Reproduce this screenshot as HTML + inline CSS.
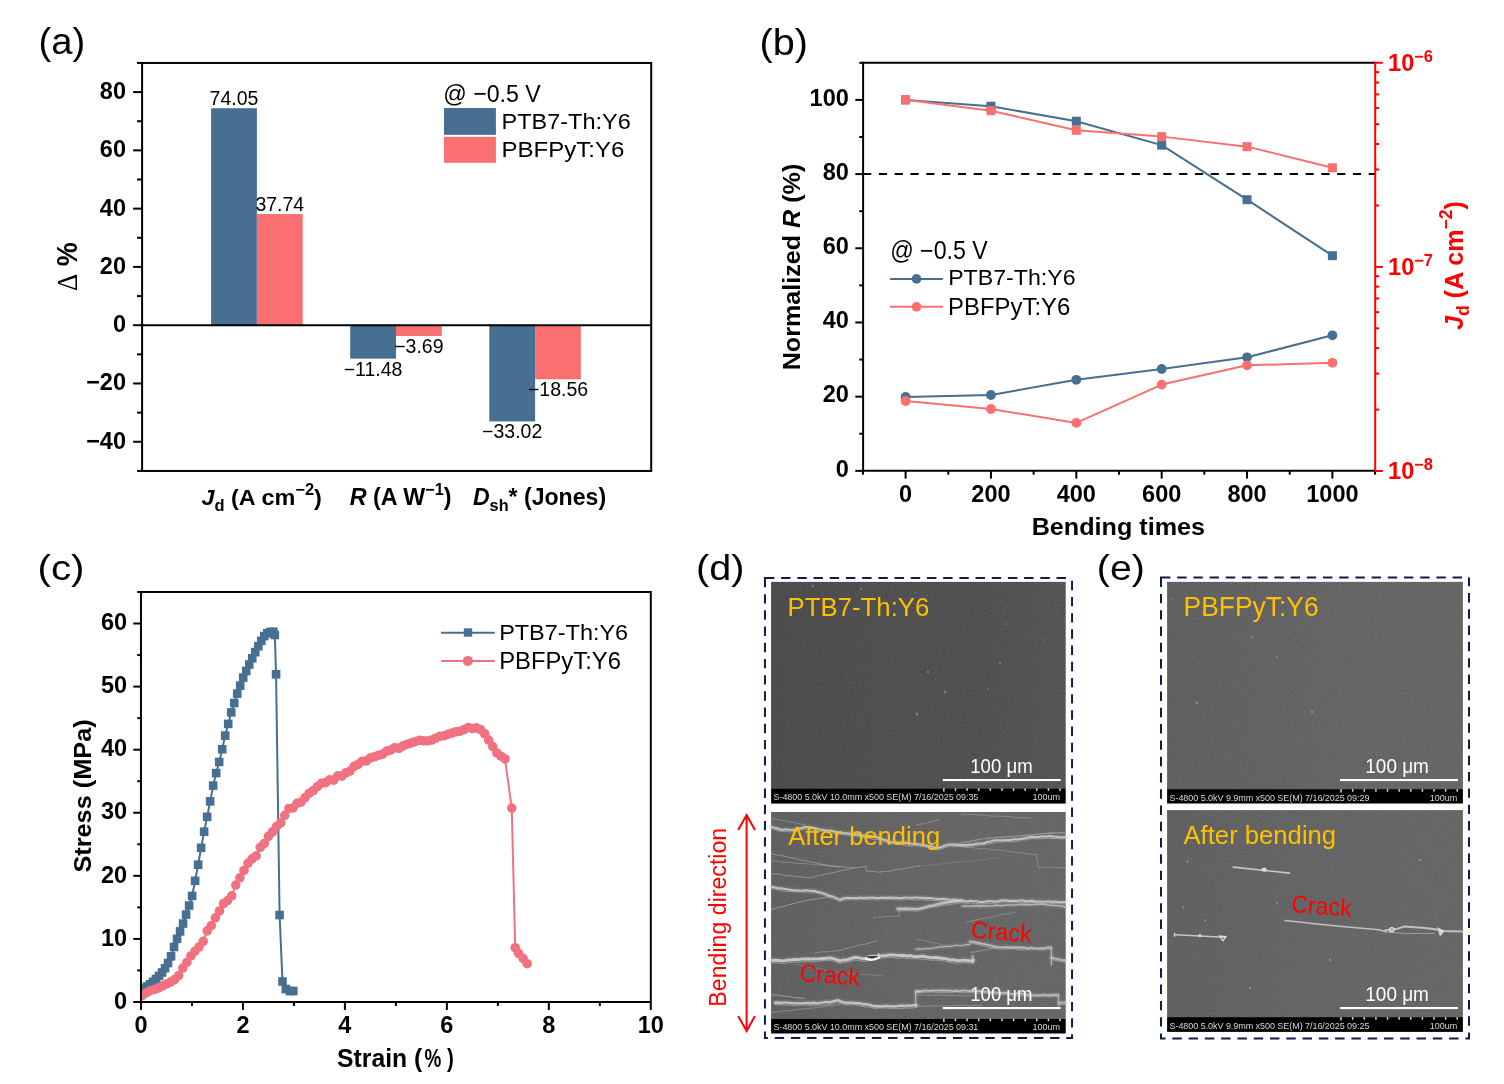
<!DOCTYPE html>
<html><head><meta charset="utf-8"><title>Figure</title>
<style>html,body{margin:0;padding:0;background:#fff;overflow:hidden;} svg{display:block;will-change:transform;} text{font-family:"Liberation Sans", Arial, sans-serif;}</style>
</head><body>
<svg width="1504" height="1084" viewBox="0 0 1504 1084">
<rect width="1504" height="1084" fill="#fff"/>
<text transform="translate(38.51,54.06) scale(1.0608,1.0060) rotate(0)" font-size="36" font-weight="normal" font-style="normal" fill="#000">(a)</text>
<rect x="211.10" y="108.22" width="45.80" height="216.98" fill="#466F91" />
<text x="234.00" y="105.02" font-size="19.5" font-weight="normal" font-style="normal" fill="#000" text-anchor="middle" >74.05</text>
<rect x="256.90" y="214.03" width="45.80" height="111.17" fill="#FA7070" />
<text x="279.80" y="210.83" font-size="19.5" font-weight="normal" font-style="normal" fill="#000" text-anchor="middle" >37.74</text>
<rect x="350.20" y="325.20" width="45.80" height="33.45" fill="#466F91" />
<text x="373.10" y="375.65" font-size="19.5" font-weight="normal" font-style="normal" fill="#000" text-anchor="middle" >−11.48</text>
<rect x="396.00" y="325.20" width="45.80" height="10.75" fill="#FA7070" />
<text x="418.90" y="352.95" font-size="19.5" font-weight="normal" font-style="normal" fill="#000" text-anchor="middle" >−3.69</text>
<rect x="489.30" y="325.20" width="45.80" height="96.22" fill="#466F91" />
<text x="512.20" y="438.42" font-size="19.5" font-weight="normal" font-style="normal" fill="#000" text-anchor="middle" >−33.02</text>
<rect x="535.10" y="325.20" width="45.80" height="54.08" fill="#FA7070" />
<text x="558.00" y="396.28" font-size="19.5" font-weight="normal" font-style="normal" fill="#000" text-anchor="middle" >−18.56</text>
<line x1="142.10" y1="325.20" x2="651.20" y2="325.20" stroke="#000" stroke-width="2" />
<line x1="133.10" y1="441.76" x2="142.10" y2="441.76" stroke="#000" stroke-width="2" />
<text x="126.00" y="448.66" font-size="23.5" font-weight="bold" font-style="normal" fill="#000" text-anchor="end" >−40</text>
<line x1="133.10" y1="383.48" x2="142.10" y2="383.48" stroke="#000" stroke-width="2" />
<text x="126.00" y="390.38" font-size="23.5" font-weight="bold" font-style="normal" fill="#000" text-anchor="end" >−20</text>
<line x1="133.10" y1="325.20" x2="142.10" y2="325.20" stroke="#000" stroke-width="2" />
<text x="126.00" y="332.10" font-size="23.5" font-weight="bold" font-style="normal" fill="#000" text-anchor="end" >0</text>
<line x1="133.10" y1="266.92" x2="142.10" y2="266.92" stroke="#000" stroke-width="2" />
<text x="126.00" y="273.82" font-size="23.5" font-weight="bold" font-style="normal" fill="#000" text-anchor="end" >20</text>
<line x1="133.10" y1="208.64" x2="142.10" y2="208.64" stroke="#000" stroke-width="2" />
<text x="126.00" y="215.54" font-size="23.5" font-weight="bold" font-style="normal" fill="#000" text-anchor="end" >40</text>
<line x1="133.10" y1="150.36" x2="142.10" y2="150.36" stroke="#000" stroke-width="2" />
<text x="126.00" y="157.26" font-size="23.5" font-weight="bold" font-style="normal" fill="#000" text-anchor="end" >60</text>
<line x1="133.10" y1="92.08" x2="142.10" y2="92.08" stroke="#000" stroke-width="2" />
<text x="126.00" y="98.98" font-size="23.5" font-weight="bold" font-style="normal" fill="#000" text-anchor="end" >80</text>
<line x1="137.00" y1="470.90" x2="142.10" y2="470.90" stroke="#000" stroke-width="2" />
<line x1="137.00" y1="412.62" x2="142.10" y2="412.62" stroke="#000" stroke-width="2" />
<line x1="137.00" y1="354.34" x2="142.10" y2="354.34" stroke="#000" stroke-width="2" />
<line x1="137.00" y1="296.06" x2="142.10" y2="296.06" stroke="#000" stroke-width="2" />
<line x1="137.00" y1="237.78" x2="142.10" y2="237.78" stroke="#000" stroke-width="2" />
<line x1="137.00" y1="179.50" x2="142.10" y2="179.50" stroke="#000" stroke-width="2" />
<line x1="137.00" y1="121.22" x2="142.10" y2="121.22" stroke="#000" stroke-width="2" />
<line x1="137.00" y1="62.94" x2="142.10" y2="62.94" stroke="#000" stroke-width="2" />
<rect x="142.1" y="62.97" width="509.10" height="408.00" fill="none" stroke="#000" stroke-width="2"/>
<text transform="translate(443.24,102.14) scale(1.0074,1.0650) rotate(0)" font-size="23" font-weight="normal" font-style="normal" fill="#000">@ −0.5 V</text>
<rect x="444.00" y="108.00" width="51.90" height="26.80" fill="#466F91" />
<rect x="444.00" y="136.80" width="51.90" height="26.00" fill="#FA7070" />
<text transform="translate(501.45,128.66) scale(1.0227,0.9647) rotate(0)" font-size="23" font-weight="normal" font-style="normal" fill="#000">PTB7-Th:Y6</text>
<text transform="translate(501.41,157.38) scale(1.0454,0.9928) rotate(0)" font-size="23" font-weight="normal" font-style="normal" fill="#000">PBFPyT:Y6</text>
<text transform="translate(201.45,505.01) scale(0.9979,0.9658) rotate(0)" font-size="23.5" font-weight="bold" font-style="normal" fill="#000"><tspan font-style="italic">J</tspan><tspan font-size="16.5" dy="5.8">d</tspan><tspan dy="-5.8"> (A cm</tspan><tspan font-size="16.5" dy="-10.2">−2</tspan><tspan dy="10.2">)</tspan></text>
<text transform="translate(349.80,505.30) scale(0.9906,0.9905) rotate(0)" font-size="23.5" font-weight="bold" font-style="normal" fill="#000"><tspan font-style="italic">R</tspan> (A W<tspan font-size="16.5" dy="-10.2">−1</tspan><tspan dy="10.2">)</tspan></text>
<text transform="translate(472.91,504.88) scale(0.9839,0.9870) rotate(0)" font-size="23.5" font-weight="bold" font-style="normal" fill="#000"><tspan font-style="italic">D</tspan><tspan font-size="16.5" dy="5.8">sh</tspan><tspan dy="-5.8">* (Jones)</tspan></text>
<text transform="translate(76.77,290.97) scale(1.3108,1.1725) rotate(-90)" font-size="23" font-weight="normal" font-style="normal" fill="#000"><tspan font-family="Liberation Serif, serif">Δ</tspan> <tspan font-weight="bold">%</tspan></text>
<text transform="translate(759.52,54.94) scale(1.1013,1.0075) rotate(0)" font-size="36" font-weight="normal" font-style="normal" fill="#000">(b)</text>
<line x1="863.1" y1="174.09" x2="1375.2" y2="174.09" stroke="#000" stroke-width="2" stroke-dasharray="8.2 7.6"/>
<polyline points="905.60,99.90 990.96,106.21 1076.32,121.23 1161.68,145.16 1247.04,199.69 1332.40,255.70" fill="none" stroke="#466F91" stroke-width="2" stroke-linejoin="round"/>
<polyline points="905.60,397.00 990.96,395.00 1076.32,379.80 1161.68,369.00 1247.04,357.30 1332.40,335.30" fill="none" stroke="#466F91" stroke-width="2" stroke-linejoin="round"/>
<rect x="901.10" y="95.40" width="9.00" height="9.00" fill="#466F91" />
<rect x="986.46" y="101.71" width="9.00" height="9.00" fill="#466F91" />
<rect x="1071.82" y="116.73" width="9.00" height="9.00" fill="#466F91" />
<rect x="1157.18" y="140.66" width="9.00" height="9.00" fill="#466F91" />
<rect x="1242.54" y="195.19" width="9.00" height="9.00" fill="#466F91" />
<rect x="1327.90" y="251.20" width="9.00" height="9.00" fill="#466F91" />
<circle cx="905.60" cy="397.00" r="4.9" fill="#466F91"/>
<circle cx="990.96" cy="395.00" r="4.9" fill="#466F91"/>
<circle cx="1076.32" cy="379.80" r="4.9" fill="#466F91"/>
<circle cx="1161.68" cy="369.00" r="4.9" fill="#466F91"/>
<circle cx="1247.04" cy="357.30" r="4.9" fill="#466F91"/>
<circle cx="1332.40" cy="335.30" r="4.9" fill="#466F91"/>
<polyline points="905.60,99.71 990.96,110.66 1076.32,130.32 1161.68,136.62 1247.04,146.64 1332.40,167.78" fill="none" stroke="#FA7070" stroke-width="2" stroke-linejoin="round"/>
<polyline points="905.60,401.00 990.96,409.00 1076.32,422.90 1161.68,384.60 1247.04,365.30 1332.40,362.80" fill="none" stroke="#FA7070" stroke-width="2" stroke-linejoin="round"/>
<rect x="901.10" y="95.21" width="9.00" height="9.00" fill="#FA7070" />
<rect x="986.46" y="106.16" width="9.00" height="9.00" fill="#FA7070" />
<rect x="1071.82" y="125.82" width="9.00" height="9.00" fill="#FA7070" />
<rect x="1157.18" y="132.12" width="9.00" height="9.00" fill="#FA7070" />
<rect x="1242.54" y="142.14" width="9.00" height="9.00" fill="#FA7070" />
<rect x="1327.90" y="163.28" width="9.00" height="9.00" fill="#FA7070" />
<circle cx="905.60" cy="401.00" r="4.9" fill="#FA7070"/>
<circle cx="990.96" cy="409.00" r="4.9" fill="#FA7070"/>
<circle cx="1076.32" cy="422.90" r="4.9" fill="#FA7070"/>
<circle cx="1161.68" cy="384.60" r="4.9" fill="#FA7070"/>
<circle cx="1247.04" cy="365.30" r="4.9" fill="#FA7070"/>
<circle cx="1332.40" cy="362.80" r="4.9" fill="#FA7070"/>
<line x1="855.30" y1="470.85" x2="863.10" y2="470.85" stroke="#000" stroke-width="2" />
<text x="848.80" y="476.55" font-size="23.5" font-weight="bold" font-style="normal" fill="#000" text-anchor="end" >0</text>
<line x1="855.30" y1="396.66" x2="863.10" y2="396.66" stroke="#000" stroke-width="2" />
<text x="848.80" y="402.36" font-size="23.5" font-weight="bold" font-style="normal" fill="#000" text-anchor="end" >20</text>
<line x1="855.30" y1="322.47" x2="863.10" y2="322.47" stroke="#000" stroke-width="2" />
<text x="848.80" y="328.17" font-size="23.5" font-weight="bold" font-style="normal" fill="#000" text-anchor="end" >40</text>
<line x1="855.30" y1="248.28" x2="863.10" y2="248.28" stroke="#000" stroke-width="2" />
<text x="848.80" y="253.98" font-size="23.5" font-weight="bold" font-style="normal" fill="#000" text-anchor="end" >60</text>
<line x1="855.30" y1="174.09" x2="863.10" y2="174.09" stroke="#000" stroke-width="2" />
<text x="848.80" y="179.79" font-size="23.5" font-weight="bold" font-style="normal" fill="#000" text-anchor="end" >80</text>
<line x1="855.30" y1="99.90" x2="863.10" y2="99.90" stroke="#000" stroke-width="2" />
<text x="848.80" y="105.60" font-size="23.5" font-weight="bold" font-style="normal" fill="#000" text-anchor="end" >100</text>
<line x1="859.30" y1="433.75" x2="863.10" y2="433.75" stroke="#000" stroke-width="2" />
<line x1="859.30" y1="359.57" x2="863.10" y2="359.57" stroke="#000" stroke-width="2" />
<line x1="859.30" y1="285.38" x2="863.10" y2="285.38" stroke="#000" stroke-width="2" />
<line x1="859.30" y1="211.19" x2="863.10" y2="211.19" stroke="#000" stroke-width="2" />
<line x1="859.30" y1="137.00" x2="863.10" y2="137.00" stroke="#000" stroke-width="2" />
<line x1="859.30" y1="62.81" x2="863.10" y2="62.81" stroke="#000" stroke-width="2" />
<line x1="905.60" y1="470.85" x2="905.60" y2="478.60" stroke="#000" stroke-width="2" />
<text x="905.60" y="502.00" font-size="23.5" font-weight="bold" font-style="normal" fill="#000" text-anchor="middle" >0</text>
<line x1="990.96" y1="470.85" x2="990.96" y2="478.60" stroke="#000" stroke-width="2" />
<text x="990.96" y="502.00" font-size="23.5" font-weight="bold" font-style="normal" fill="#000" text-anchor="middle" >200</text>
<line x1="1076.32" y1="470.85" x2="1076.32" y2="478.60" stroke="#000" stroke-width="2" />
<text x="1076.32" y="502.00" font-size="23.5" font-weight="bold" font-style="normal" fill="#000" text-anchor="middle" >400</text>
<line x1="1161.68" y1="470.85" x2="1161.68" y2="478.60" stroke="#000" stroke-width="2" />
<text x="1161.68" y="502.00" font-size="23.5" font-weight="bold" font-style="normal" fill="#000" text-anchor="middle" >600</text>
<line x1="1247.04" y1="470.85" x2="1247.04" y2="478.60" stroke="#000" stroke-width="2" />
<text x="1247.04" y="502.00" font-size="23.5" font-weight="bold" font-style="normal" fill="#000" text-anchor="middle" >800</text>
<line x1="1332.40" y1="470.85" x2="1332.40" y2="478.60" stroke="#000" stroke-width="2" />
<text x="1332.40" y="502.00" font-size="23.5" font-weight="bold" font-style="normal" fill="#000" text-anchor="middle" >1000</text>
<line x1="862.92" y1="470.85" x2="862.92" y2="474.70" stroke="#000" stroke-width="2" />
<line x1="948.28" y1="470.85" x2="948.28" y2="474.70" stroke="#000" stroke-width="2" />
<line x1="1033.64" y1="470.85" x2="1033.64" y2="474.70" stroke="#000" stroke-width="2" />
<line x1="1119.00" y1="470.85" x2="1119.00" y2="474.70" stroke="#000" stroke-width="2" />
<line x1="1204.36" y1="470.85" x2="1204.36" y2="474.70" stroke="#000" stroke-width="2" />
<line x1="1289.72" y1="470.85" x2="1289.72" y2="474.70" stroke="#000" stroke-width="2" />
<line x1="1375.08" y1="470.85" x2="1375.08" y2="474.70" stroke="#000" stroke-width="2" />
<line x1="1375.20" y1="471.00" x2="1382.80" y2="471.00" stroke="#FF0000" stroke-width="2" />
<line x1="1375.20" y1="266.90" x2="1382.80" y2="266.90" stroke="#FF0000" stroke-width="2" />
<line x1="1375.20" y1="62.80" x2="1382.80" y2="62.80" stroke="#FF0000" stroke-width="2" />
<line x1="1375.20" y1="409.56" x2="1379.10" y2="409.56" stroke="#FF0000" stroke-width="2" />
<line x1="1375.20" y1="373.62" x2="1379.10" y2="373.62" stroke="#FF0000" stroke-width="2" />
<line x1="1375.20" y1="348.12" x2="1379.10" y2="348.12" stroke="#FF0000" stroke-width="2" />
<line x1="1375.20" y1="328.34" x2="1379.10" y2="328.34" stroke="#FF0000" stroke-width="2" />
<line x1="1375.20" y1="312.18" x2="1379.10" y2="312.18" stroke="#FF0000" stroke-width="2" />
<line x1="1375.20" y1="298.52" x2="1379.10" y2="298.52" stroke="#FF0000" stroke-width="2" />
<line x1="1375.20" y1="286.68" x2="1379.10" y2="286.68" stroke="#FF0000" stroke-width="2" />
<line x1="1375.20" y1="276.24" x2="1379.10" y2="276.24" stroke="#FF0000" stroke-width="2" />
<line x1="1375.20" y1="205.46" x2="1379.10" y2="205.46" stroke="#FF0000" stroke-width="2" />
<line x1="1375.20" y1="169.52" x2="1379.10" y2="169.52" stroke="#FF0000" stroke-width="2" />
<line x1="1375.20" y1="144.02" x2="1379.10" y2="144.02" stroke="#FF0000" stroke-width="2" />
<line x1="1375.20" y1="124.24" x2="1379.10" y2="124.24" stroke="#FF0000" stroke-width="2" />
<line x1="1375.20" y1="108.08" x2="1379.10" y2="108.08" stroke="#FF0000" stroke-width="2" />
<line x1="1375.20" y1="94.42" x2="1379.10" y2="94.42" stroke="#FF0000" stroke-width="2" />
<line x1="1375.20" y1="82.58" x2="1379.10" y2="82.58" stroke="#FF0000" stroke-width="2" />
<line x1="1375.20" y1="72.14" x2="1379.10" y2="72.14" stroke="#FF0000" stroke-width="2" />
<line x1="863.10" y1="62.80" x2="1375.20" y2="62.80" stroke="#000" stroke-width="2" />
<line x1="863.10" y1="470.85" x2="1375.20" y2="470.85" stroke="#000" stroke-width="2" />
<line x1="863.10" y1="61.80" x2="863.10" y2="471.85" stroke="#000" stroke-width="2" />
<line x1="1375.20" y1="61.80" x2="1375.20" y2="471.85" stroke="#FF0000" stroke-width="2" />
<text x="1388.09" y="71.10" font-size="23.5" font-weight="bold" font-style="normal" fill="#FF0000" text-anchor="start" >10<tspan font-size="16.5" dy="-9.1">−6</tspan></text>
<text x="1388.09" y="275.20" font-size="23.5" font-weight="bold" font-style="normal" fill="#FF0000" text-anchor="start" >10<tspan font-size="16.5" dy="-9.1">−7</tspan></text>
<text x="1388.09" y="479.30" font-size="23.5" font-weight="bold" font-style="normal" fill="#FF0000" text-anchor="start" >10<tspan font-size="16.5" dy="-9.1">−8</tspan></text>
<text transform="translate(890.14,259.34) scale(1.0084,1.0950) rotate(0)" font-size="23" font-weight="normal" font-style="normal" fill="#000">@ −0.5 V</text>
<line x1="890.10" y1="278.90" x2="942.80" y2="278.90" stroke="#466F91" stroke-width="2" />
<circle cx="916.50" cy="278.90" r="4.8" fill="#466F91"/>
<line x1="890.10" y1="306.80" x2="942.80" y2="306.80" stroke="#FA7070" stroke-width="2" />
<circle cx="916.50" cy="306.80" r="4.8" fill="#FA7070"/>
<text transform="translate(948.19,285.26) scale(1.0065,0.9529) rotate(0)" font-size="23" font-weight="normal" font-style="normal" fill="#000">PTB7-Th:Y6</text>
<text transform="translate(948.12,314.64) scale(1.0393,1.0024) rotate(0)" font-size="23" font-weight="normal" font-style="normal" fill="#000">PBFPyT:Y6</text>
<text transform="translate(799.52,370.30) scale(1.0483,1.0698) rotate(-90)" font-size="23.5" font-weight="bold" font-style="normal" fill="#000">Normalized <tspan font-style="italic">R</tspan> (%)</text>
<text transform="translate(1031.69,535.46) scale(1.0715,1.0273) rotate(0)" font-size="23.5" font-weight="bold" font-style="normal" fill="#000">Bending times</text>
<text transform="translate(1462.68,329.87) scale(1.0703,1.0667) rotate(-90)" font-size="23.5" font-weight="bold" font-style="normal" fill="#FF0000"><tspan font-style="italic">J</tspan><tspan font-size="16.5" dy="5.8">d</tspan><tspan dy="-5.8"> (A cm</tspan><tspan font-size="16.5" dy="-10.2">−2</tspan><tspan dy="10.2">)</tspan></text>
<text transform="translate(37.48,580.11) scale(1.1200,0.9851) rotate(0)" font-size="36" font-weight="normal" font-style="normal" fill="#000">(c)</text>
<defs><clipPath id="clipc"><rect x="140.97" y="591.98" width="509.83" height="410.02"/></clipPath></defs><g clip-path="url(#clipc)">
<polyline points="140.97,991.91 143.98,988.39 146.99,986.46 149.99,984.22 153.00,981.67 156.01,978.93 159.02,975.91 162.03,972.50 165.03,968.23 168.04,963.02 171.05,956.27 174.06,946.96 177.07,938.81 180.07,931.39 183.08,923.55 186.09,914.55 189.10,905.56 192.11,895.91 195.11,880.81 198.12,864.67 201.13,847.81 204.14,831.68 207.15,816.80 210.15,801.41 213.16,785.59 216.17,773.10 219.18,761.97 222.19,749.24 225.19,735.63 228.20,723.90 231.21,712.39 234.22,703.01 237.23,693.63 240.23,685.59 243.24,677.57 246.25,670.95 249.26,664.49 252.27,658.23 255.27,652.13 258.28,646.25 261.29,640.82 264.30,636.08 267.31,633.36 270.31,632.06 273.32,631.72 274.80,635.00 276.07,674.24 279.59,915.01 282.50,981.50 285.81,989.01 289.84,991.02 293.31,991.02" fill="none" stroke="#466F91" stroke-width="2"/>
<g fill="#466F91"><rect x="136.67" y="987.61" width="8.6" height="8.6"/><rect x="139.68" y="984.09" width="8.6" height="8.6"/><rect x="142.69" y="982.16" width="8.6" height="8.6"/><rect x="145.69" y="979.92" width="8.6" height="8.6"/><rect x="148.70" y="977.37" width="8.6" height="8.6"/><rect x="151.71" y="974.63" width="8.6" height="8.6"/><rect x="154.72" y="971.61" width="8.6" height="8.6"/><rect x="157.73" y="968.20" width="8.6" height="8.6"/><rect x="160.73" y="963.93" width="8.6" height="8.6"/><rect x="163.74" y="958.72" width="8.6" height="8.6"/><rect x="166.75" y="951.97" width="8.6" height="8.6"/><rect x="169.76" y="942.66" width="8.6" height="8.6"/><rect x="172.77" y="934.51" width="8.6" height="8.6"/><rect x="175.77" y="927.09" width="8.6" height="8.6"/><rect x="178.78" y="919.25" width="8.6" height="8.6"/><rect x="181.79" y="910.25" width="8.6" height="8.6"/><rect x="184.80" y="901.26" width="8.6" height="8.6"/><rect x="187.81" y="891.61" width="8.6" height="8.6"/><rect x="190.81" y="876.51" width="8.6" height="8.6"/><rect x="193.82" y="860.37" width="8.6" height="8.6"/><rect x="196.83" y="843.51" width="8.6" height="8.6"/><rect x="199.84" y="827.38" width="8.6" height="8.6"/><rect x="202.85" y="812.50" width="8.6" height="8.6"/><rect x="205.85" y="797.11" width="8.6" height="8.6"/><rect x="208.86" y="781.29" width="8.6" height="8.6"/><rect x="211.87" y="768.80" width="8.6" height="8.6"/><rect x="214.88" y="757.67" width="8.6" height="8.6"/><rect x="217.89" y="744.94" width="8.6" height="8.6"/><rect x="220.89" y="731.33" width="8.6" height="8.6"/><rect x="223.90" y="719.60" width="8.6" height="8.6"/><rect x="226.91" y="708.09" width="8.6" height="8.6"/><rect x="229.92" y="698.71" width="8.6" height="8.6"/><rect x="232.93" y="689.33" width="8.6" height="8.6"/><rect x="235.93" y="681.29" width="8.6" height="8.6"/><rect x="238.94" y="673.27" width="8.6" height="8.6"/><rect x="241.95" y="666.65" width="8.6" height="8.6"/><rect x="244.96" y="660.19" width="8.6" height="8.6"/><rect x="247.97" y="653.93" width="8.6" height="8.6"/><rect x="250.97" y="647.83" width="8.6" height="8.6"/><rect x="253.98" y="641.95" width="8.6" height="8.6"/><rect x="256.99" y="636.52" width="8.6" height="8.6"/><rect x="260.00" y="631.78" width="8.6" height="8.6"/><rect x="263.01" y="629.06" width="8.6" height="8.6"/><rect x="266.01" y="627.76" width="8.6" height="8.6"/><rect x="269.02" y="627.42" width="8.6" height="8.6"/><rect x="270.50" y="630.70" width="8.6" height="8.6"/><rect x="271.77" y="669.94" width="8.6" height="8.6"/><rect x="275.29" y="910.71" width="8.6" height="8.6"/><rect x="278.20" y="977.20" width="8.6" height="8.6"/><rect x="281.51" y="984.71" width="8.6" height="8.6"/><rect x="285.54" y="986.72" width="8.6" height="8.6"/><rect x="289.01" y="986.72" width="8.6" height="8.6"/></g>
<polyline points="141.99,995.60 146.07,992.96 150.15,990.71 154.23,989.54 158.30,988.12 162.38,985.92 166.46,984.02 170.54,982.09 174.62,979.59 178.70,975.53 182.78,968.03 186.85,962.31 190.93,955.93 195.01,951.18 199.09,947.00 203.17,941.27 207.25,930.90 211.33,925.56 215.41,917.81 219.48,910.93 223.56,903.58 227.64,900.55 231.72,895.77 235.80,885.02 239.88,877.83 243.96,870.45 248.03,863.08 252.11,858.78 256.19,855.84 260.27,847.27 264.35,843.45 268.43,836.27 272.51,831.78 276.58,826.47 280.66,822.90 284.74,815.34 288.82,808.43 292.90,808.05 296.98,803.39 301.06,802.05 305.14,797.61 309.21,793.25 313.29,790.52 317.37,786.55 321.45,783.32 325.53,782.61 329.61,779.87 333.69,780.10 337.76,775.79 341.84,776.15 345.92,772.91 350.00,771.05 354.08,766.42 358.16,764.38 362.24,761.23 366.31,760.83 370.39,757.90 374.47,756.82 378.55,755.26 382.63,754.14 386.71,751.02 390.79,750.07 394.87,747.62 398.94,748.40 403.02,745.87 407.10,744.31 411.18,743.06 415.26,741.72 419.34,740.34 423.42,740.81 427.49,740.95 431.57,740.06 435.65,738.23 439.73,736.28 443.81,735.79 447.89,734.28 451.97,733.12 456.04,731.77 460.12,731.18 464.20,729.54 468.28,727.51 472.36,728.60 476.44,727.92 480.52,729.51 484.60,733.75 488.67,740.04 492.75,746.59 496.83,752.95 500.91,756.22 504.99,758.96 511.77,808.09 515.19,947.69 518.50,953.30 523.09,958.47 527.17,963.71" fill="none" stroke="#F07281" stroke-width="2"/>
<g fill="#F07281"><circle cx="141.99" cy="995.60" r="4.8"/><circle cx="146.07" cy="992.96" r="4.8"/><circle cx="150.15" cy="990.71" r="4.8"/><circle cx="154.23" cy="989.54" r="4.8"/><circle cx="158.30" cy="988.12" r="4.8"/><circle cx="162.38" cy="985.92" r="4.8"/><circle cx="166.46" cy="984.02" r="4.8"/><circle cx="170.54" cy="982.09" r="4.8"/><circle cx="174.62" cy="979.59" r="4.8"/><circle cx="178.70" cy="975.53" r="4.8"/><circle cx="182.78" cy="968.03" r="4.8"/><circle cx="186.85" cy="962.31" r="4.8"/><circle cx="190.93" cy="955.93" r="4.8"/><circle cx="195.01" cy="951.18" r="4.8"/><circle cx="199.09" cy="947.00" r="4.8"/><circle cx="203.17" cy="941.27" r="4.8"/><circle cx="207.25" cy="930.90" r="4.8"/><circle cx="211.33" cy="925.56" r="4.8"/><circle cx="215.41" cy="917.81" r="4.8"/><circle cx="219.48" cy="910.93" r="4.8"/><circle cx="223.56" cy="903.58" r="4.8"/><circle cx="227.64" cy="900.55" r="4.8"/><circle cx="231.72" cy="895.77" r="4.8"/><circle cx="235.80" cy="885.02" r="4.8"/><circle cx="239.88" cy="877.83" r="4.8"/><circle cx="243.96" cy="870.45" r="4.8"/><circle cx="248.03" cy="863.08" r="4.8"/><circle cx="252.11" cy="858.78" r="4.8"/><circle cx="256.19" cy="855.84" r="4.8"/><circle cx="260.27" cy="847.27" r="4.8"/><circle cx="264.35" cy="843.45" r="4.8"/><circle cx="268.43" cy="836.27" r="4.8"/><circle cx="272.51" cy="831.78" r="4.8"/><circle cx="276.58" cy="826.47" r="4.8"/><circle cx="280.66" cy="822.90" r="4.8"/><circle cx="284.74" cy="815.34" r="4.8"/><circle cx="288.82" cy="808.43" r="4.8"/><circle cx="292.90" cy="808.05" r="4.8"/><circle cx="296.98" cy="803.39" r="4.8"/><circle cx="301.06" cy="802.05" r="4.8"/><circle cx="305.14" cy="797.61" r="4.8"/><circle cx="309.21" cy="793.25" r="4.8"/><circle cx="313.29" cy="790.52" r="4.8"/><circle cx="317.37" cy="786.55" r="4.8"/><circle cx="321.45" cy="783.32" r="4.8"/><circle cx="325.53" cy="782.61" r="4.8"/><circle cx="329.61" cy="779.87" r="4.8"/><circle cx="333.69" cy="780.10" r="4.8"/><circle cx="337.76" cy="775.79" r="4.8"/><circle cx="341.84" cy="776.15" r="4.8"/><circle cx="345.92" cy="772.91" r="4.8"/><circle cx="350.00" cy="771.05" r="4.8"/><circle cx="354.08" cy="766.42" r="4.8"/><circle cx="358.16" cy="764.38" r="4.8"/><circle cx="362.24" cy="761.23" r="4.8"/><circle cx="366.31" cy="760.83" r="4.8"/><circle cx="370.39" cy="757.90" r="4.8"/><circle cx="374.47" cy="756.82" r="4.8"/><circle cx="378.55" cy="755.26" r="4.8"/><circle cx="382.63" cy="754.14" r="4.8"/><circle cx="386.71" cy="751.02" r="4.8"/><circle cx="390.79" cy="750.07" r="4.8"/><circle cx="394.87" cy="747.62" r="4.8"/><circle cx="398.94" cy="748.40" r="4.8"/><circle cx="403.02" cy="745.87" r="4.8"/><circle cx="407.10" cy="744.31" r="4.8"/><circle cx="411.18" cy="743.06" r="4.8"/><circle cx="415.26" cy="741.72" r="4.8"/><circle cx="419.34" cy="740.34" r="4.8"/><circle cx="423.42" cy="740.81" r="4.8"/><circle cx="427.49" cy="740.95" r="4.8"/><circle cx="431.57" cy="740.06" r="4.8"/><circle cx="435.65" cy="738.23" r="4.8"/><circle cx="439.73" cy="736.28" r="4.8"/><circle cx="443.81" cy="735.79" r="4.8"/><circle cx="447.89" cy="734.28" r="4.8"/><circle cx="451.97" cy="733.12" r="4.8"/><circle cx="456.04" cy="731.77" r="4.8"/><circle cx="460.12" cy="731.18" r="4.8"/><circle cx="464.20" cy="729.54" r="4.8"/><circle cx="468.28" cy="727.51" r="4.8"/><circle cx="472.36" cy="728.60" r="4.8"/><circle cx="476.44" cy="727.92" r="4.8"/><circle cx="480.52" cy="729.51" r="4.8"/><circle cx="484.60" cy="733.75" r="4.8"/><circle cx="488.67" cy="740.04" r="4.8"/><circle cx="492.75" cy="746.59" r="4.8"/><circle cx="496.83" cy="752.95" r="4.8"/><circle cx="500.91" cy="756.22" r="4.8"/><circle cx="504.99" cy="758.96" r="4.8"/><circle cx="511.77" cy="808.09" r="4.8"/><circle cx="515.19" cy="947.69" r="4.8"/><circle cx="518.50" cy="953.30" r="4.8"/><circle cx="523.09" cy="958.47" r="4.8"/><circle cx="527.17" cy="963.71" r="4.8"/></g>
</g>
<line x1="133.25" y1="1002.00" x2="140.97" y2="1002.00" stroke="#000" stroke-width="2" />
<text x="127.10" y="1008.70" font-size="23.5" font-weight="bold" font-style="normal" fill="#000" text-anchor="end" >0</text>
<line x1="133.25" y1="938.92" x2="140.97" y2="938.92" stroke="#000" stroke-width="2" />
<text x="127.10" y="945.62" font-size="23.5" font-weight="bold" font-style="normal" fill="#000" text-anchor="end" >10</text>
<line x1="133.25" y1="875.84" x2="140.97" y2="875.84" stroke="#000" stroke-width="2" />
<text x="127.10" y="882.54" font-size="23.5" font-weight="bold" font-style="normal" fill="#000" text-anchor="end" >20</text>
<line x1="133.25" y1="812.76" x2="140.97" y2="812.76" stroke="#000" stroke-width="2" />
<text x="127.10" y="819.46" font-size="23.5" font-weight="bold" font-style="normal" fill="#000" text-anchor="end" >30</text>
<line x1="133.25" y1="749.68" x2="140.97" y2="749.68" stroke="#000" stroke-width="2" />
<text x="127.10" y="756.38" font-size="23.5" font-weight="bold" font-style="normal" fill="#000" text-anchor="end" >40</text>
<line x1="133.25" y1="686.60" x2="140.97" y2="686.60" stroke="#000" stroke-width="2" />
<text x="127.10" y="693.30" font-size="23.5" font-weight="bold" font-style="normal" fill="#000" text-anchor="end" >50</text>
<line x1="133.25" y1="623.52" x2="140.97" y2="623.52" stroke="#000" stroke-width="2" />
<text x="127.10" y="630.22" font-size="23.5" font-weight="bold" font-style="normal" fill="#000" text-anchor="end" >60</text>
<line x1="137.25" y1="970.46" x2="140.97" y2="970.46" stroke="#000" stroke-width="2" />
<line x1="137.25" y1="907.38" x2="140.97" y2="907.38" stroke="#000" stroke-width="2" />
<line x1="137.25" y1="844.30" x2="140.97" y2="844.30" stroke="#000" stroke-width="2" />
<line x1="137.25" y1="781.22" x2="140.97" y2="781.22" stroke="#000" stroke-width="2" />
<line x1="137.25" y1="718.14" x2="140.97" y2="718.14" stroke="#000" stroke-width="2" />
<line x1="137.25" y1="655.06" x2="140.97" y2="655.06" stroke="#000" stroke-width="2" />
<line x1="137.25" y1="591.98" x2="140.97" y2="591.98" stroke="#000" stroke-width="2" />
<line x1="140.97" y1="1002.00" x2="140.97" y2="1010.00" stroke="#000" stroke-width="2" />
<text x="140.97" y="1032.70" font-size="23.5" font-weight="bold" font-style="normal" fill="#000" text-anchor="middle" >0</text>
<line x1="242.94" y1="1002.00" x2="242.94" y2="1010.00" stroke="#000" stroke-width="2" />
<text x="242.94" y="1032.70" font-size="23.5" font-weight="bold" font-style="normal" fill="#000" text-anchor="middle" >2</text>
<line x1="344.90" y1="1002.00" x2="344.90" y2="1010.00" stroke="#000" stroke-width="2" />
<text x="344.90" y="1032.70" font-size="23.5" font-weight="bold" font-style="normal" fill="#000" text-anchor="middle" >4</text>
<line x1="446.87" y1="1002.00" x2="446.87" y2="1010.00" stroke="#000" stroke-width="2" />
<text x="446.87" y="1032.70" font-size="23.5" font-weight="bold" font-style="normal" fill="#000" text-anchor="middle" >6</text>
<line x1="548.83" y1="1002.00" x2="548.83" y2="1010.00" stroke="#000" stroke-width="2" />
<text x="548.83" y="1032.70" font-size="23.5" font-weight="bold" font-style="normal" fill="#000" text-anchor="middle" >8</text>
<line x1="650.80" y1="1002.00" x2="650.80" y2="1010.00" stroke="#000" stroke-width="2" />
<text x="650.80" y="1032.70" font-size="23.5" font-weight="bold" font-style="normal" fill="#000" text-anchor="middle" >10</text>
<line x1="191.95" y1="1002.00" x2="191.95" y2="1006.00" stroke="#000" stroke-width="2" />
<line x1="293.92" y1="1002.00" x2="293.92" y2="1006.00" stroke="#000" stroke-width="2" />
<line x1="395.88" y1="1002.00" x2="395.88" y2="1006.00" stroke="#000" stroke-width="2" />
<line x1="497.85" y1="1002.00" x2="497.85" y2="1006.00" stroke="#000" stroke-width="2" />
<line x1="599.82" y1="1002.00" x2="599.82" y2="1006.00" stroke="#000" stroke-width="2" />
<rect x="140.97" y="591.98" width="509.83" height="410.02" fill="none" stroke="#000" stroke-width="2"/>
<text transform="translate(90.98,872.61) scale(0.9931,1.0774) rotate(-90)" font-size="23.5" font-weight="bold" font-style="normal" fill="#000">Stress (MPa)</text>
<text transform="translate(337.11,1066.96) scale(1.0525,1.0621) rotate(0)" font-size="23.5" font-weight="bold" font-style="normal" fill="#000">Strain (</text>
<text transform="translate(424.40,1067.03) scale(0.8051,1.0727) rotate(0)" font-size="23.5" font-weight="bold" font-style="normal" fill="#000">%</text>
<text transform="translate(447.10,1066.96) scale(0.8741,1.0621) rotate(0)" font-size="23.5" font-weight="bold" font-style="normal" fill="#000">)</text>
<line x1="441.00" y1="632.70" x2="494.80" y2="632.70" stroke="#466F91" stroke-width="2" />
<rect x="463.80" y="628.30" width="8.40" height="8.40" fill="#466F91" />
<line x1="441.00" y1="660.90" x2="494.80" y2="660.90" stroke="#F07281" stroke-width="2" />
<circle cx="467.80" cy="660.90" r="5.0" fill="#F07281"/>
<text transform="translate(499.16,639.66) scale(1.0202,0.9588) rotate(0)" font-size="23" font-weight="normal" font-style="normal" fill="#000">PTB7-Th:Y6</text>
<text transform="translate(499.13,668.69) scale(1.0358,1.0120) rotate(0)" font-size="23" font-weight="normal" font-style="normal" fill="#000">PBFPyT:Y6</text>
<text transform="translate(696.03,579.77) scale(1.0987,0.9910) rotate(0)" font-size="36" font-weight="normal" font-style="normal" fill="#000">(d)</text>
<text transform="translate(1096.84,579.77) scale(1.0911,0.9910) rotate(0)" font-size="36" font-weight="normal" font-style="normal" fill="#000">(e)</text>
<defs><filter id="grain" x="0" y="0" width="100%" height="100%"><feTurbulence type="fractalNoise" baseFrequency="0.6" numOctaves="2" seed="3"/><feColorMatrix type="saturate" values="0"/></filter><linearGradient id="gd1" x1="0" y1="0" x2="1" y2="0"><stop offset="0" stop-color="#000" stop-opacity="0.07"/><stop offset="0.5" stop-color="#000" stop-opacity="0"/><stop offset="1" stop-color="#fff" stop-opacity="0.03"/></linearGradient><linearGradient id="gd2" x1="0" y1="0" x2="1" y2="0"><stop offset="0" stop-color="#000" stop-opacity="0.04"/><stop offset="1" stop-color="#fff" stop-opacity="0.02"/></linearGradient></defs>
<path d="M764.95,577.95 V1038.0 H1072.05 V577.95" fill="none" stroke="#0A1E46" stroke-width="2" stroke-dasharray="9.4 6.8"/>
<path d="M763.95,577.95 H1072.05" fill="none" stroke="#0A1E46" stroke-width="2" stroke-dasharray="10.4 6.8 9.4 6.8 9.4 6.8 9.4 6.8 9.4 6.8 9.4 6.8 9.4 6.8 9.4 6.8 9.4 6.8 9.4 6.8 9.4 6.8 9.4 6.8 9.4 6.8 9.4 6.8 9.4 6.8 9.4 6.8 9.4 6.8 9.4 6.8 9.4 6.8 9.4 6.8 9.4 6.8"/>
<path d="M1161.0,577.6 V1038.4 H1469.0 V577.6" fill="none" stroke="#0A1E46" stroke-width="2" stroke-dasharray="9.46 6.82"/>
<path d="M1160.0,577.6 H1469.0" fill="none" stroke="#0A1E46" stroke-width="2" stroke-dasharray="10.4 6.8 9.4 6.8 9.4 6.8 9.4 6.8 9.4 6.8 9.4 6.8 9.4 6.8 9.4 6.8 9.4 6.8 9.4 6.8 9.4 6.8 9.4 6.8 9.4 6.8 9.4 6.8 9.4 6.8 9.4 6.8 9.4 6.8 9.4 6.8 9.4 6.8 9.4 6.8 9.4 6.8"/>
<rect x="771.10" y="581.90" width="294.60" height="206.40" fill="rgb(72,72,72)"/>
<rect x="771.10" y="581.90" width="294.60" height="206.40" fill="url(#gd1)"/>
<rect x="771.10" y="581.90" width="294.60" height="206.40" filter="url(#grain)" opacity="0.16"/>
<circle cx="813" cy="586" r="1" fill="#8e8e8e"/><circle cx="861" cy="589" r="0.9" fill="#8e8e8e"/><circle cx="915" cy="593" r="0.7" fill="#8e8e8e"/><circle cx="1006" cy="624" r="0.8" fill="#8e8e8e"/><circle cx="1000" cy="663" r="0.9" fill="#8e8e8e"/><circle cx="988" cy="689" r="0.8" fill="#8e8e8e"/><circle cx="928" cy="672" r="1.0" fill="#8e8e8e"/><circle cx="945" cy="692" r="1.1" fill="#8e8e8e"/><circle cx="917" cy="714" r="1.2" fill="#8e8e8e"/><circle cx="1045" cy="640" r="0.8" fill="#8e8e8e"/>
<rect x="771.10" y="788.30" width="294.60" height="15.30" fill="#000"/>
<text x="773.50" y="799.90" font-size="9" fill="#d8d8d8" letter-spacing="-0.05">S-4800 5.0kV 10.0mm x500 SE(M) 7/16/2025 09:35</text>
<text x="1059.90" y="799.90" font-size="9" fill="#d8d8d8" text-anchor="end" letter-spacing="-0.05">100um</text>
<rect x="943.10" y="788.30" width="1.5" height="3.4" fill="#d8d8d8"/>
<rect x="954.72" y="788.30" width="1.5" height="2.6" fill="#d8d8d8"/>
<rect x="966.34" y="788.30" width="1.5" height="2.6" fill="#d8d8d8"/>
<rect x="977.96" y="788.30" width="1.5" height="2.6" fill="#d8d8d8"/>
<rect x="989.58" y="788.30" width="1.5" height="2.6" fill="#d8d8d8"/>
<rect x="1001.20" y="788.30" width="1.5" height="2.6" fill="#d8d8d8"/>
<rect x="1012.82" y="788.30" width="1.5" height="2.6" fill="#d8d8d8"/>
<rect x="1024.44" y="788.30" width="1.5" height="2.6" fill="#d8d8d8"/>
<rect x="1036.06" y="788.30" width="1.5" height="2.6" fill="#d8d8d8"/>
<rect x="1047.68" y="788.30" width="1.5" height="2.6" fill="#d8d8d8"/>
<rect x="1059.30" y="788.30" width="1.5" height="2.6" fill="#d8d8d8"/>
<rect x="942.80" y="779.00" width="117.9" height="2.1" fill="#fff"/>
<rect x="771.10" y="812.00" width="294.60" height="206.60" fill="rgb(93,93,93)"/>
<rect x="771.10" y="812.00" width="294.60" height="206.60" fill="url(#gd2)"/>
<rect x="771.10" y="812.00" width="294.60" height="206.60" filter="url(#grain)" opacity="0.16"/>
<polyline points="771.0,827.0 774.0,827.6 777.0,828.3 780.0,829.4 783.0,829.7 786.0,829.3 789.0,829.8 792.0,829.8 795.0,830.0 798.3,828.6 801.7,828.0 805.0,827.0 808.0,827.1 811.0,827.9 814.0,828.1 817.0,828.6 820.0,829.4 823.3,829.8 826.6,830.7 829.9,830.6 833.2,831.2 836.5,832.0 839.8,832.4 843.1,833.2 846.4,833.3 849.8,833.6 853.1,834.6 856.4,834.2 859.7,835.0 863.0,835.8 866.4,835.8 869.7,836.1 873.0,836.6 876.4,837.2 879.7,837.9 883.0,839.5 886.3,840.3 889.6,841.9 892.6,842.2 895.6,842.5 898.6,842.5 901.6,842.9 904.6,842.8 907.6,843.0 910.6,843.4 913.6,844.1 916.6,844.1 919.6,844.4 922.7,844.8 925.8,845.6 928.9,846.1 932.0,846.6 935.1,847.6 938.2,847.9 941.9,846.9 945.7,845.3 949.4,844.4 952.8,844.6 956.2,844.6 959.7,845.0 963.1,845.0 966.5,844.9 969.5,844.4 972.6,844.7 975.6,843.7 978.7,843.6 981.7,843.4 984.7,843.0 987.7,841.8 990.8,841.5 993.8,840.5 996.8,840.3 1000.2,840.3 1003.6,840.2 1007.0,839.9 1010.3,840.0 1013.7,839.3 1017.1,839.3 1020.1,839.0 1023.1,838.4 1026.2,837.9 1029.2,837.3 1032.2,836.8 1035.2,837.0 1038.3,837.0 1041.3,836.5 1044.4,836.5 1047.4,836.3 1050.4,836.0 1053.5,836.7 1056.5,836.8 1059.5,837.3 1062.6,837.3 1065.6,837.1" fill="none" stroke="#bdbdbd" stroke-width="5.5" stroke-opacity="0.16" stroke-linejoin="round" stroke-linecap="round"/>
<polyline points="771.0,827.0 774.0,827.6 777.0,828.3 780.0,829.4 783.0,829.7 786.0,829.3 789.0,829.8 792.0,829.8 795.0,830.0 798.3,828.6 801.7,828.0 805.0,827.0 808.0,827.1 811.0,827.9 814.0,828.1 817.0,828.6 820.0,829.4 823.3,829.8 826.6,830.7 829.9,830.6 833.2,831.2 836.5,832.0 839.8,832.4 843.1,833.2 846.4,833.3 849.8,833.6 853.1,834.6 856.4,834.2 859.7,835.0 863.0,835.8 866.4,835.8 869.7,836.1 873.0,836.6 876.4,837.2 879.7,837.9 883.0,839.5 886.3,840.3 889.6,841.9 892.6,842.2 895.6,842.5 898.6,842.5 901.6,842.9 904.6,842.8 907.6,843.0 910.6,843.4 913.6,844.1 916.6,844.1 919.6,844.4 922.7,844.8 925.8,845.6 928.9,846.1 932.0,846.6 935.1,847.6 938.2,847.9 941.9,846.9 945.7,845.3 949.4,844.4 952.8,844.6 956.2,844.6 959.7,845.0 963.1,845.0 966.5,844.9 969.5,844.4 972.6,844.7 975.6,843.7 978.7,843.6 981.7,843.4 984.7,843.0 987.7,841.8 990.8,841.5 993.8,840.5 996.8,840.3 1000.2,840.3 1003.6,840.2 1007.0,839.9 1010.3,840.0 1013.7,839.3 1017.1,839.3 1020.1,839.0 1023.1,838.4 1026.2,837.9 1029.2,837.3 1032.2,836.8 1035.2,837.0 1038.3,837.0 1041.3,836.5 1044.4,836.5 1047.4,836.3 1050.4,836.0 1053.5,836.7 1056.5,836.8 1059.5,837.3 1062.6,837.3 1065.6,837.1" fill="none" stroke="#cfcfcf" stroke-width="2.0" stroke-opacity="0.85" stroke-linejoin="round" stroke-linecap="round"/>
<polyline points="771.0,828.8 775.5,829.7 780.0,831.2 785.0,831.3 790.0,831.8 795.0,831.8 800.0,829.7 805.0,828.8 810.0,829.6 815.0,830.0 820.0,831.2 824.0,831.3 827.9,831.9 831.9,833.3 835.8,833.2 839.8,834.2 843.8,834.4 847.8,835.1 851.7,836.2 855.7,835.8 859.7,836.8 863.7,837.3 867.7,838.0 871.7,839.0 875.7,839.5 879.7,839.7 884.7,842.1 889.6,843.7 893.9,843.8 898.2,844.3 902.5,844.6 906.7,845.6 911.0,846.0 915.3,845.4 919.6,846.2 924.2,846.7 928.9,847.6 933.6,848.5 938.2,849.7 943.8,847.9 949.4,846.2 953.7,846.4 958.0,846.2 962.2,846.0 966.5,846.7 971.6,846.1 976.6,845.5 981.7,845.2 986.7,844.2 991.8,843.7 996.8,842.1 1000.9,842.1 1004.9,841.7 1009.0,841.6 1013.0,841.5 1017.1,841.1 1022.1,839.7 1027.2,839.9 1032.2,838.6 1037.3,838.8 1042.3,838.7 1047.4,838.1 1052.0,838.7 1056.5,838.4 1061.0,838.6 1065.6,838.9" fill="none" stroke="#e0e0e0" stroke-width="0.8" stroke-opacity="0.45" stroke-linejoin="round" stroke-linecap="round"/>
<polyline points="960.0,843.0 964.3,842.0 968.6,841.7 972.9,840.6 977.1,839.8 981.4,839.2 985.7,838.5 990.0,838.0 994.3,837.6 998.6,837.1 1002.9,836.8 1007.1,836.6 1011.4,836.3 1015.7,836.2 1020.0,836.0 1024.3,835.2 1028.6,835.4 1032.9,834.8 1037.1,834.0 1041.4,833.7 1045.7,833.3 1050.0,833.0 1055.0,832.9 1060.0,832.7 1065.0,833.0" fill="none" stroke="#cfcfcf" stroke-width="1.26" stroke-opacity="0.4" stroke-linejoin="round" stroke-linecap="round"/>
<polyline points="771.0,818.0 775.2,819.1 779.5,820.1 783.8,820.6 788.0,821.5 792.2,822.1 796.5,823.0 800.8,824.0 805.0,825.0" fill="none" stroke="#cfcfcf" stroke-width="0.9" stroke-opacity="0.36000000000000004" stroke-linejoin="round" stroke-linecap="round"/>
<polyline points="916.0,825.2 920.6,824.0 925.3,823.4 929.9,821.9 934.6,820.8 939.2,820.1" fill="none" stroke="#cfcfcf" stroke-width="0.9" stroke-opacity="0.36000000000000004" stroke-linejoin="round" stroke-linecap="round"/>
<polyline points="961.5,814.0 965.5,814.6 969.6,814.5 973.6,814.5 977.7,815.0 981.7,814.9 985.7,815.5 989.8,816.0 993.8,816.2 997.9,816.3 1001.9,816.2 1006.0,816.6 1010.0,816.7 1014.0,817.3 1018.1,817.4 1022.1,817.8 1026.2,817.7 1030.2,818.1" fill="none" stroke="#cfcfcf" stroke-width="0.9" stroke-opacity="0.36000000000000004" stroke-linejoin="round" stroke-linecap="round"/>
<polyline points="953.4,845.4 957.5,845.7 961.7,846.5 965.8,847.1 970.0,847.5 974.1,847.9 978.3,848.4 982.4,848.8 986.6,848.8 990.7,849.5 994.8,849.8 999.0,850.1 1003.1,850.5 1007.3,851.2 1011.4,851.6 1015.6,852.4 1019.7,853.0 1023.9,853.1 1028.0,853.9 1032.2,854.4 1036.3,854.5 1037.0,859.2 1037.6,863.1 1038.3,867.6 1042.8,867.4 1047.4,867.4 1051.9,867.4 1056.5,867.4 1061.0,867.7 1065.6,867.6" fill="none" stroke="#cfcfcf" stroke-width="0.9" stroke-opacity="0.36000000000000004" stroke-linejoin="round" stroke-linecap="round"/>
<polyline points="771.0,853.4 774.9,854.5 778.8,855.3 782.8,855.9 786.7,856.8 790.6,857.7 794.5,858.1 798.4,859.3 802.4,860.3 806.3,861.0 810.2,861.8 814.1,862.5 818.0,863.1 822.0,864.3 825.9,864.9 829.8,865.8 833.9,866.3 838.1,866.8 842.2,866.7 846.4,867.1 850.6,867.8 854.7,867.8 860.2,867.2 865.7,866.3 866.7,871.3 871.0,871.4 875.4,871.7 879.7,872.3 883.7,871.4 887.7,871.3 891.7,870.6 895.7,869.5 899.7,869.3 903.6,868.7 907.6,867.9 911.6,867.0 915.6,866.5 919.6,865.8" fill="none" stroke="#cfcfcf" stroke-width="0.9900000000000001" stroke-opacity="0.44000000000000006" stroke-linejoin="round" stroke-linecap="round"/>
<polyline points="771.0,873.8 775.3,874.0 779.6,874.3 784.0,875.5 788.3,875.7 792.6,876.0 796.9,876.8 801.3,876.9 805.6,877.6 809.9,877.8 814.0,877.1 818.0,875.8 822.1,874.9 826.2,874.0 830.3,873.1 834.3,872.4 838.4,871.3 842.5,870.5 846.6,869.4 850.6,869.0 854.7,867.8" fill="none" stroke="#cfcfcf" stroke-width="0.9900000000000001" stroke-opacity="0.44000000000000006" stroke-linejoin="round" stroke-linecap="round"/>
<polyline points="771.0,860.8 775.0,861.1 779.1,861.5 783.1,861.9 787.2,862.5 791.2,862.5 795.3,863.2 799.3,863.3 803.4,863.6 807.4,864.0 811.5,864.0 815.5,864.6 819.6,864.8 823.6,865.0 827.7,866.0 831.7,865.9 835.8,866.4 839.8,866.8" fill="none" stroke="#cfcfcf" stroke-width="0.9" stroke-opacity="0.36000000000000004" stroke-linejoin="round" stroke-linecap="round"/>
<polyline points="919.6,866.0 923.6,865.8 927.7,865.2 931.7,864.7 935.8,864.4 939.8,864.0 943.8,863.8 947.9,862.9 951.9,862.8 956.0,862.2 960.0,862.0 964.0,861.4 968.0,861.4 972.0,860.8 976.0,860.4 980.0,860.2 984.0,859.9 988.0,859.2 992.0,858.9 996.0,858.4 1000.0,858.0" fill="none" stroke="#cfcfcf" stroke-width="0.81" stroke-opacity="0.24" stroke-linejoin="round" stroke-linecap="round"/>
<polyline points="771.0,886.8 774.2,887.3 777.3,888.0 780.5,888.3 783.7,888.8 786.8,889.3 790.0,889.8 793.1,890.3 796.2,890.2 799.3,890.5 802.5,890.7 805.6,890.2 808.7,890.6 811.8,891.1 814.9,890.8 817.9,892.1 820.9,892.4 823.8,893.4 826.8,894.7 829.8,895.7 833.1,896.6 836.5,898.1 839.8,899.7 843.8,898.3 847.8,897.7 850.9,897.9 854.1,898.0 857.2,898.1 860.3,897.4 863.4,897.9 866.6,897.8 869.7,897.7 872.9,897.4 876.2,898.0 879.4,898.1 882.7,897.4 885.9,898.1 889.1,897.6 892.4,897.7 895.6,897.7 898.6,898.1 901.6,898.0 904.6,897.4 907.6,897.6 910.6,897.7 913.6,897.6 916.6,897.4 919.6,897.7 923.0,897.8 926.4,898.3 929.8,897.9 933.2,898.6 936.6,898.7 940.0,899.0 943.1,898.8 946.1,899.2 949.2,899.7 952.3,899.8 955.4,899.6 958.4,900.6 961.5,900.4 964.5,900.9 967.6,901.4 970.6,900.8 973.6,901.3 976.7,901.3 979.7,902.0 982.7,902.1 985.8,901.4 988.8,901.1 991.8,901.2 994.9,901.5 997.9,901.2 1000.9,900.5 1004.0,900.3 1007.0,900.4 1010.2,900.9 1013.4,900.7 1016.6,900.9 1019.8,900.4 1023.0,900.5 1026.3,901.2 1029.5,901.0 1032.7,900.8 1035.9,901.7 1039.1,901.5 1042.3,901.5 1045.6,901.8 1049.0,901.3 1052.3,902.0 1055.6,901.4 1058.9,902.2 1062.3,901.9 1065.6,902.0" fill="none" stroke="#bdbdbd" stroke-width="5.5" stroke-opacity="0.16" stroke-linejoin="round" stroke-linecap="round"/>
<polyline points="771.0,886.8 774.2,887.3 777.3,888.0 780.5,888.3 783.7,888.8 786.8,889.3 790.0,889.8 793.1,890.3 796.2,890.2 799.3,890.5 802.5,890.7 805.6,890.2 808.7,890.6 811.8,891.1 814.9,890.8 817.9,892.1 820.9,892.4 823.8,893.4 826.8,894.7 829.8,895.7 833.1,896.6 836.5,898.1 839.8,899.7 843.8,898.3 847.8,897.7 850.9,897.9 854.1,898.0 857.2,898.1 860.3,897.4 863.4,897.9 866.6,897.8 869.7,897.7 872.9,897.4 876.2,898.0 879.4,898.1 882.7,897.4 885.9,898.1 889.1,897.6 892.4,897.7 895.6,897.7 898.6,898.1 901.6,898.0 904.6,897.4 907.6,897.6 910.6,897.7 913.6,897.6 916.6,897.4 919.6,897.7 923.0,897.8 926.4,898.3 929.8,897.9 933.2,898.6 936.6,898.7 940.0,899.0 943.1,898.8 946.1,899.2 949.2,899.7 952.3,899.8 955.4,899.6 958.4,900.6 961.5,900.4 964.5,900.9 967.6,901.4 970.6,900.8 973.6,901.3 976.7,901.3 979.7,902.0 982.7,902.1 985.8,901.4 988.8,901.1 991.8,901.2 994.9,901.5 997.9,901.2 1000.9,900.5 1004.0,900.3 1007.0,900.4 1010.2,900.9 1013.4,900.7 1016.6,900.9 1019.8,900.4 1023.0,900.5 1026.3,901.2 1029.5,901.0 1032.7,900.8 1035.9,901.7 1039.1,901.5 1042.3,901.5 1045.6,901.8 1049.0,901.3 1052.3,902.0 1055.6,901.4 1058.9,902.2 1062.3,901.9 1065.6,902.0" fill="none" stroke="#cfcfcf" stroke-width="2.0" stroke-opacity="0.85" stroke-linejoin="round" stroke-linecap="round"/>
<polyline points="771.0,888.6 775.8,889.2 780.5,890.2 785.2,891.4 790.0,891.6 794.1,891.5 798.3,891.5 802.5,892.1 806.6,892.0 810.8,892.0 814.9,892.6 819.9,893.8 824.8,895.3 829.8,897.5 834.8,899.1 839.8,901.5 843.8,900.3 847.8,899.5 852.2,899.3 856.6,899.8 860.9,899.2 865.3,899.5 869.7,899.5 874.0,899.1 878.3,899.3 882.7,898.9 887.0,899.2 891.3,898.9 895.6,899.5 899.6,899.8 903.6,899.6 907.6,899.1 911.6,899.5 915.6,900.0 919.6,899.5 923.7,899.3 927.8,900.4 931.8,900.2 935.9,900.5 940.0,900.8 944.3,901.5 948.6,901.2 952.9,901.6 957.2,902.1 961.5,902.2 966.0,903.2 970.6,902.8 975.2,903.8 979.7,903.8 984.2,903.8 988.8,903.4 993.4,902.9 997.9,902.6 1002.5,901.9 1007.0,902.2 1011.4,901.9 1015.8,902.0 1020.2,902.9 1024.7,902.5 1029.1,902.5 1033.5,902.5 1037.9,903.6 1042.3,903.3 1047.0,903.8 1051.6,903.7 1056.3,903.3 1060.9,903.4 1065.6,903.8" fill="none" stroke="#e0e0e0" stroke-width="0.8" stroke-opacity="0.45" stroke-linejoin="round" stroke-linecap="round"/>
<polyline points="897.6,908.7 900.7,908.6 903.7,908.8 906.8,908.5 909.9,908.9 912.9,908.7 916.0,909.0 919.4,908.7 922.7,907.9 926.1,906.8 929.5,905.8 932.8,905.7 936.2,904.5 939.4,903.8 942.5,903.3 945.7,902.5 948.9,902.3 952.0,901.9 955.2,901.4 958.3,900.6 961.5,900.4" fill="none" stroke="#bdbdbd" stroke-width="5.9" stroke-opacity="0.16" stroke-linejoin="round" stroke-linecap="round"/>
<polyline points="897.6,908.7 900.7,908.6 903.7,908.8 906.8,908.5 909.9,908.9 912.9,908.7 916.0,909.0 919.4,908.7 922.7,907.9 926.1,906.8 929.5,905.8 932.8,905.7 936.2,904.5 939.4,903.8 942.5,903.3 945.7,902.5 948.9,902.3 952.0,901.9 955.2,901.4 958.3,900.6 961.5,900.4" fill="none" stroke="#cfcfcf" stroke-width="2.4" stroke-opacity="0.8" stroke-linejoin="round" stroke-linecap="round"/>
<polyline points="897.6,910.9 902.2,910.9 906.8,910.4 911.4,910.8 916.0,911.2 920.0,909.8 924.1,909.2 928.1,907.9 932.2,907.0 936.2,906.7 940.4,905.7 944.6,905.0 948.9,904.7 953.1,904.0 957.3,903.5 961.5,902.6" fill="none" stroke="#e0e0e0" stroke-width="0.8" stroke-opacity="0.45" stroke-linejoin="round" stroke-linecap="round"/>
<polyline points="962.5,906.0 965.5,906.1 968.5,906.2 971.6,906.3 974.6,905.9 977.6,905.8 980.7,906.4 983.7,905.7 986.7,906.0 990.1,906.0 993.5,905.8 996.9,905.1 1000.2,905.6 1003.6,905.5 1007.0,905.0 1010.2,905.0 1013.4,905.0 1016.6,905.0 1019.8,904.3 1023.0,904.6 1026.3,904.5 1029.5,904.7 1032.7,904.5 1035.9,904.5 1039.1,904.2 1042.3,904.0 1045.6,904.8 1049.0,905.0 1052.3,905.5 1055.6,905.5 1058.9,905.7 1062.3,906.2 1065.6,907.0" fill="none" stroke="#bdbdbd" stroke-width="5.1" stroke-opacity="0.16" stroke-linejoin="round" stroke-linecap="round"/>
<polyline points="962.5,906.0 965.5,906.1 968.5,906.2 971.6,906.3 974.6,905.9 977.6,905.8 980.7,906.4 983.7,905.7 986.7,906.0 990.1,906.0 993.5,905.8 996.9,905.1 1000.2,905.6 1003.6,905.5 1007.0,905.0 1010.2,905.0 1013.4,905.0 1016.6,905.0 1019.8,904.3 1023.0,904.6 1026.3,904.5 1029.5,904.7 1032.7,904.5 1035.9,904.5 1039.1,904.2 1042.3,904.0 1045.6,904.8 1049.0,905.0 1052.3,905.5 1055.6,905.5 1058.9,905.7 1062.3,906.2 1065.6,907.0" fill="none" stroke="#cfcfcf" stroke-width="1.6" stroke-opacity="0.7" stroke-linejoin="round" stroke-linecap="round"/>
<polyline points="771.0,909.7 775.1,908.5 779.3,907.1 783.4,906.5 787.5,905.2 791.6,904.1 795.8,902.9 799.9,901.7 804.2,901.1 808.4,900.3 812.7,899.2 817.0,899.1 821.3,898.3 825.5,897.4 829.8,896.7" fill="none" stroke="#cfcfcf" stroke-width="0.9900000000000001" stroke-opacity="0.48" stroke-linejoin="round" stroke-linecap="round"/>
<polyline points="873.7,917.5 878.0,917.3 882.3,917.1 886.7,916.4 891.0,916.7 895.3,916.1 899.6,916.0 899.6,911.0" fill="none" stroke="#cfcfcf" stroke-width="0.9" stroke-opacity="0.36000000000000004" stroke-linejoin="round" stroke-linecap="round"/>
<polyline points="771.0,960.4 774.7,960.2 778.3,960.5 782.0,960.9 785.2,960.7 788.5,959.9 791.7,960.0 794.9,959.4 798.2,959.7 801.6,959.2 804.9,959.0 808.2,959.0 811.6,959.1 814.9,958.9 818.6,958.9 822.3,958.5 826.1,958.3 829.8,957.9 833.1,958.5 836.5,959.6 839.8,960.9 843.1,960.0 846.5,959.8 849.8,958.9 854.7,957.4 858.0,957.7 861.4,958.5 864.7,958.9 867.7,957.9 870.7,957.3 873.7,956.9 876.7,956.7 879.7,955.9 883.0,955.7 886.3,955.4 889.6,954.9 892.6,954.9 895.6,955.2 898.6,955.3 901.6,955.5 904.6,955.3 907.6,956.2 910.6,955.7 913.6,956.5 916.6,956.6 919.6,956.4 922.9,956.2 926.2,956.8 929.6,957.3 932.9,957.7 936.2,957.5 939.6,958.0 942.9,958.3 946.3,958.7 949.7,959.9 953.0,959.7 956.4,960.5 959.8,960.6 963.3,960.2 966.7,960.5 970.2,960.9 973.6,960.5" fill="none" stroke="#bdbdbd" stroke-width="6.3" stroke-opacity="0.16" stroke-linejoin="round" stroke-linecap="round"/>
<polyline points="771.0,960.4 774.7,960.2 778.3,960.5 782.0,960.9 785.2,960.7 788.5,959.9 791.7,960.0 794.9,959.4 798.2,959.7 801.6,959.2 804.9,959.0 808.2,959.0 811.6,959.1 814.9,958.9 818.6,958.9 822.3,958.5 826.1,958.3 829.8,957.9 833.1,958.5 836.5,959.6 839.8,960.9 843.1,960.0 846.5,959.8 849.8,958.9 854.7,957.4 858.0,957.7 861.4,958.5 864.7,958.9 867.7,957.9 870.7,957.3 873.7,956.9 876.7,956.7 879.7,955.9 883.0,955.7 886.3,955.4 889.6,954.9 892.6,954.9 895.6,955.2 898.6,955.3 901.6,955.5 904.6,955.3 907.6,956.2 910.6,955.7 913.6,956.5 916.6,956.6 919.6,956.4 922.9,956.2 926.2,956.8 929.6,957.3 932.9,957.7 936.2,957.5 939.6,958.0 942.9,958.3 946.3,958.7 949.7,959.9 953.0,959.7 956.4,960.5 959.8,960.6 963.3,960.2 966.7,960.5 970.2,960.9 973.6,960.5" fill="none" stroke="#cfcfcf" stroke-width="2.8" stroke-opacity="0.9" stroke-linejoin="round" stroke-linecap="round"/>
<polyline points="771.0,962.9 776.5,962.7 782.0,963.4 786.3,963.3 790.6,962.4 794.9,961.9 798.9,962.3 802.9,962.0 806.9,961.3 810.9,962.0 814.9,961.4 819.9,961.1 824.8,960.2 829.8,960.4 834.8,961.3 839.8,963.4 844.8,962.4 849.8,961.4 854.7,959.9 859.7,960.6 864.7,961.4 869.7,960.2 874.7,959.0 879.7,958.4 884.7,957.7 889.6,957.4 893.9,957.4 898.2,958.3 902.5,957.5 906.7,958.6 911.0,958.9 915.3,958.2 919.6,958.9 923.8,959.7 927.9,959.7 932.1,960.2 936.2,960.0 940.2,960.4 944.3,961.1 948.3,961.7 952.4,963.0 956.4,963.0 960.7,963.1 965.0,962.9 969.3,962.9 973.6,963.0" fill="none" stroke="#e0e0e0" stroke-width="0.8" stroke-opacity="0.45" stroke-linejoin="round" stroke-linecap="round"/>
<polyline points="972.6,956.0 972.6,959.0 972.6,962.5" fill="none" stroke="#bdbdbd" stroke-width="4.9" stroke-opacity="0.16" stroke-linejoin="round" stroke-linecap="round"/>
<polyline points="972.6,956.0 972.6,959.0 972.6,962.5" fill="none" stroke="#cfcfcf" stroke-width="1.4" stroke-opacity="0.8" stroke-linejoin="round" stroke-linecap="round"/>
<ellipse cx="872.8" cy="957.0" rx="6.0" ry="1.5" fill="#3a3a3a"/>
<path d="M866,958.4 Q872,961.6 879.2,957.6" fill="none" stroke="#f4f4f4" stroke-width="2.3" stroke-linecap="round"/>
<path d="M868,955.6 L878.5,955.2" fill="none" stroke="#d8d8d8" stroke-width="0.9"/>
<path d="M878.3,953 L879.6,957.4" fill="none" stroke="#e8e8e8" stroke-width="1"/>
<polyline points="814.9,952.9 819.0,952.2 823.2,951.8 827.3,951.9 831.5,951.1 835.6,951.1 839.8,950.4 843.9,949.2 848.0,948.1 852.1,947.2 856.2,946.0 860.3,945.0 864.4,944.4 868.5,943.3 872.6,942.2 876.7,940.9" fill="none" stroke="#cfcfcf" stroke-width="0.9" stroke-opacity="0.44000000000000006" stroke-linejoin="round" stroke-linecap="round"/>
<polyline points="794.9,963.8 799.0,964.7 803.1,965.7 807.1,966.6 811.2,967.1 815.3,968.0 819.4,968.4 823.5,969.7 827.6,970.3 831.6,971.3 835.7,972.1 839.8,972.8 844.1,973.0 848.4,973.1 852.7,974.0 857.0,973.7 861.2,974.3 865.5,974.5 869.8,974.8 874.1,975.4 878.4,975.8 882.7,975.8" fill="none" stroke="#cfcfcf" stroke-width="0.81" stroke-opacity="0.32000000000000006" stroke-linejoin="round" stroke-linecap="round"/>
<polyline points="916.0,949.4 919.0,949.0 922.1,949.1 925.1,948.6 928.2,948.7 931.2,948.4 934.2,947.9 937.2,947.3 940.3,946.9 943.3,946.5 946.3,946.4 949.6,946.5 953.0,945.8 956.3,945.2 959.6,945.6 962.9,945.3 966.3,944.6 969.6,944.3" fill="none" stroke="#bdbdbd" stroke-width="4.8" stroke-opacity="0.16" stroke-linejoin="round" stroke-linecap="round"/>
<polyline points="916.0,949.4 919.0,949.0 922.1,949.1 925.1,948.6 928.2,948.7 931.2,948.4 934.2,947.9 937.2,947.3 940.3,946.9 943.3,946.5 946.3,946.4 949.6,946.5 953.0,945.8 956.3,945.2 959.6,945.6 962.9,945.3 966.3,944.6 969.6,944.3" fill="none" stroke="#cfcfcf" stroke-width="1.3" stroke-opacity="0.7" stroke-linejoin="round" stroke-linecap="round"/>
<polyline points="969.6,941.3 972.6,941.6 975.6,942.3 978.7,942.8 981.7,943.6 984.7,944.0 987.7,944.8 990.8,945.4 993.8,946.3 996.8,946.9 999.9,947.4 1003.0,947.3 1006.1,947.1 1009.2,947.3 1012.3,947.5 1015.4,947.4 1018.5,947.5 1021.7,947.4 1024.8,947.7 1027.9,948.4 1031.0,947.7 1034.1,948.2 1037.2,948.4 1040.3,948.4 1043.7,948.4 1047.0,947.5 1050.4,947.4" fill="none" stroke="#bdbdbd" stroke-width="5.3" stroke-opacity="0.16" stroke-linejoin="round" stroke-linecap="round"/>
<polyline points="969.6,941.3 972.6,941.6 975.6,942.3 978.7,942.8 981.7,943.6 984.7,944.0 987.7,944.8 990.8,945.4 993.8,946.3 996.8,946.9 999.9,947.4 1003.0,947.3 1006.1,947.1 1009.2,947.3 1012.3,947.5 1015.4,947.4 1018.5,947.5 1021.7,947.4 1024.8,947.7 1027.9,948.4 1031.0,947.7 1034.1,948.2 1037.2,948.4 1040.3,948.4 1043.7,948.4 1047.0,947.5 1050.4,947.4" fill="none" stroke="#cfcfcf" stroke-width="1.8" stroke-opacity="0.8" stroke-linejoin="round" stroke-linecap="round"/>
<polyline points="969.6,942.9 974.1,943.6 978.7,944.5 983.2,945.6 987.7,946.6 992.3,948.1 996.8,948.5 1001.1,949.1 1005.5,949.3 1009.8,948.4 1014.2,948.6 1018.5,949.5 1022.9,949.9 1027.2,949.5 1031.6,949.8 1036.0,949.3 1040.3,950.0 1045.3,949.4 1050.4,949.0" fill="none" stroke="#e0e0e0" stroke-width="0.8" stroke-opacity="0.45" stroke-linejoin="round" stroke-linecap="round"/>
<polyline points="970.6,952.4 975.0,951.9 979.3,951.0 983.7,950.1 988.1,949.4 992.4,948.1 996.8,947.4" fill="none" stroke="#cfcfcf" stroke-width="0.9" stroke-opacity="0.48" stroke-linejoin="round" stroke-linecap="round"/>
<polyline points="1051.4,947.4 1051.4,950.5 1051.4,954.0 1051.4,957.7 1051.4,961.3 1051.4,964.6" fill="none" stroke="#bdbdbd" stroke-width="4.7" stroke-opacity="0.16" stroke-linejoin="round" stroke-linecap="round"/>
<polyline points="1051.4,947.4 1051.4,950.5 1051.4,954.0 1051.4,957.7 1051.4,961.3 1051.4,964.6" fill="none" stroke="#cfcfcf" stroke-width="1.2" stroke-opacity="0.7" stroke-linejoin="round" stroke-linecap="round"/>
<polyline points="1051.4,957.5 1055.0,958.6 1058.5,959.2 1062.0,959.9 1065.6,960.5" fill="none" stroke="#bdbdbd" stroke-width="5.5" stroke-opacity="0.16" stroke-linejoin="round" stroke-linecap="round"/>
<polyline points="1051.4,957.5 1055.0,958.6 1058.5,959.2 1062.0,959.9 1065.6,960.5" fill="none" stroke="#cfcfcf" stroke-width="2.0" stroke-opacity="0.7" stroke-linejoin="round" stroke-linecap="round"/>
<polyline points="1051.4,959.3 1056.1,960.6 1060.9,961.2 1065.6,962.3" fill="none" stroke="#e0e0e0" stroke-width="0.8" stroke-opacity="0.45" stroke-linejoin="round" stroke-linecap="round"/>
<polyline points="966.5,922.1 970.5,921.3 974.6,920.1 978.6,919.8 982.7,918.5 986.7,918.2 990.8,917.2 994.8,916.1 998.8,915.1 1002.9,914.4 1006.9,913.8 1011.0,913.0 1015.0,912.0" fill="none" stroke="#cfcfcf" stroke-width="0.9" stroke-opacity="0.36000000000000004" stroke-linejoin="round" stroke-linecap="round"/>
<polyline points="916.0,939.3 920.2,939.9 924.4,940.7 928.6,941.8 932.9,942.7 937.1,943.4 941.3,944.3" fill="none" stroke="#cfcfcf" stroke-width="0.9" stroke-opacity="0.36000000000000004" stroke-linejoin="round" stroke-linecap="round"/>
<polyline points="775.0,1002.7 778.2,1002.5 781.3,1002.9 784.5,1002.4 787.7,1002.7 790.9,1002.9 794.0,1003.4 797.2,1003.1 800.4,1003.4 803.6,1003.1 806.7,1002.9 809.9,1003.2 813.2,1002.8 816.5,1003.3 819.8,1002.9 823.2,1002.4 826.5,1001.9 829.8,1002.2 833.8,1001.2 837.8,1000.2 841.3,1001.6 844.8,1002.7 848.5,1002.8 852.2,1002.7 856.0,1003.2 859.7,1003.2 862.7,1004.2 865.7,1004.2 868.7,1004.6 871.7,1005.5 874.7,1006.2 878.4,1006.1 882.2,1006.4 885.9,1005.9 889.6,1006.2 892.6,1006.4 895.6,1006.2 898.6,1005.9 901.6,1005.5 904.6,1006.1 907.6,1005.4 910.6,1005.7 913.6,1005.1 916.6,1005.2" fill="none" stroke="#bdbdbd" stroke-width="5.9" stroke-opacity="0.16" stroke-linejoin="round" stroke-linecap="round"/>
<polyline points="775.0,1002.7 778.2,1002.5 781.3,1002.9 784.5,1002.4 787.7,1002.7 790.9,1002.9 794.0,1003.4 797.2,1003.1 800.4,1003.4 803.6,1003.1 806.7,1002.9 809.9,1003.2 813.2,1002.8 816.5,1003.3 819.8,1002.9 823.2,1002.4 826.5,1001.9 829.8,1002.2 833.8,1001.2 837.8,1000.2 841.3,1001.6 844.8,1002.7 848.5,1002.8 852.2,1002.7 856.0,1003.2 859.7,1003.2 862.7,1004.2 865.7,1004.2 868.7,1004.6 871.7,1005.5 874.7,1006.2 878.4,1006.1 882.2,1006.4 885.9,1005.9 889.6,1006.2 892.6,1006.4 895.6,1006.2 898.6,1005.9 901.6,1005.5 904.6,1006.1 907.6,1005.4 910.6,1005.7 913.6,1005.1 916.6,1005.2" fill="none" stroke="#cfcfcf" stroke-width="2.4" stroke-opacity="0.85" stroke-linejoin="round" stroke-linecap="round"/>
<polyline points="775.0,1004.9 779.4,1004.6 783.7,1005.3 788.1,1004.8 792.5,1005.7 796.8,1005.2 801.2,1004.9 805.5,1005.0 809.9,1005.4 814.9,1005.0 819.8,1005.1 824.8,1005.1 829.8,1004.4 833.8,1002.9 837.8,1002.4 844.8,1004.9 849.8,1004.9 854.7,1004.8 859.7,1005.4 864.7,1006.9 869.7,1006.9 874.7,1008.4 879.7,1007.8 884.6,1007.8 889.6,1008.4 894.1,1008.1 898.6,1008.5 903.1,1008.3 907.6,1008.0 912.1,1008.1 916.6,1007.4" fill="none" stroke="#e0e0e0" stroke-width="0.8" stroke-opacity="0.45" stroke-linejoin="round" stroke-linecap="round"/>
<polyline points="915.6,1005.2 915.6,1002.2 915.6,998.3 915.6,994.9 915.6,991.8 920.0,991.8" fill="none" stroke="#bdbdbd" stroke-width="4.8" stroke-opacity="0.16" stroke-linejoin="round" stroke-linecap="round"/>
<polyline points="915.6,1005.2 915.6,1002.2 915.6,998.3 915.6,994.9 915.6,991.8 920.0,991.8" fill="none" stroke="#cfcfcf" stroke-width="1.3" stroke-opacity="0.7" stroke-linejoin="round" stroke-linecap="round"/>
<polyline points="916.0,990.8 919.1,991.2 922.2,991.0 925.3,990.4 928.4,990.9 931.4,990.7 934.5,990.7 937.6,990.6 940.7,990.5 943.8,990.4 946.9,990.6 950.0,990.7 953.1,991.2 956.2,990.5 959.2,991.2 962.3,990.5 965.4,990.7 968.5,991.1 971.6,990.8 974.6,991.3 977.7,991.1 980.7,991.0 983.7,991.6 986.8,991.7 989.8,992.4 992.8,991.9 995.8,992.3 998.9,993.0 1001.9,992.8 1004.9,992.6 1008.0,993.1 1011.0,993.7 1014.0,993.9 1017.0,993.4 1020.1,993.6 1023.1,993.9 1026.1,994.9 1029.2,994.5 1032.2,994.9 1035.4,995.1 1038.5,995.3 1041.7,994.8 1044.8,994.7 1048.0,995.3 1051.2,995.0 1054.3,994.7 1057.5,994.9" fill="none" stroke="#bdbdbd" stroke-width="5.3" stroke-opacity="0.16" stroke-linejoin="round" stroke-linecap="round"/>
<polyline points="916.0,990.8 919.1,991.2 922.2,991.0 925.3,990.4 928.4,990.9 931.4,990.7 934.5,990.7 937.6,990.6 940.7,990.5 943.8,990.4 946.9,990.6 950.0,990.7 953.1,991.2 956.2,990.5 959.2,991.2 962.3,990.5 965.4,990.7 968.5,991.1 971.6,990.8 974.6,991.3 977.7,991.1 980.7,991.0 983.7,991.6 986.8,991.7 989.8,992.4 992.8,991.9 995.8,992.3 998.9,993.0 1001.9,992.8 1004.9,992.6 1008.0,993.1 1011.0,993.7 1014.0,993.9 1017.0,993.4 1020.1,993.6 1023.1,993.9 1026.1,994.9 1029.2,994.5 1032.2,994.9 1035.4,995.1 1038.5,995.3 1041.7,994.8 1044.8,994.7 1048.0,995.3 1051.2,995.0 1054.3,994.7 1057.5,994.9" fill="none" stroke="#cfcfcf" stroke-width="1.8" stroke-opacity="0.75" stroke-linejoin="round" stroke-linecap="round"/>
<polyline points="916.0,992.4 920.3,992.7 924.6,992.2 928.8,992.2 933.1,991.8 937.4,992.7 941.7,992.9 945.9,992.6 950.2,993.0 954.5,991.8 958.8,992.1 963.0,992.4 967.3,993.0 971.6,992.4 975.9,993.3 980.3,992.9 984.6,993.0 988.9,993.5 993.2,993.8 997.6,994.6 1001.9,994.4 1006.2,994.3 1010.6,995.4 1014.9,995.6 1019.2,996.0 1023.5,996.2 1027.9,996.3 1032.2,996.5 1036.4,996.3 1040.6,996.3 1044.8,996.4 1049.1,996.9 1053.3,996.0 1057.5,996.5" fill="none" stroke="#e0e0e0" stroke-width="0.8" stroke-opacity="0.45" stroke-linejoin="round" stroke-linecap="round"/>
<polyline points="1058.5,994.9 1058.5,998.2 1058.5,1002.2 1058.5,1005.5" fill="none" stroke="#bdbdbd" stroke-width="4.7" stroke-opacity="0.16" stroke-linejoin="round" stroke-linecap="round"/>
<polyline points="1058.5,994.9 1058.5,998.2 1058.5,1002.2 1058.5,1005.5" fill="none" stroke="#cfcfcf" stroke-width="1.2" stroke-opacity="0.7" stroke-linejoin="round" stroke-linecap="round"/>
<polyline points="1059.5,1003.0 1062.5,1002.5 1065.6,1002.5" fill="none" stroke="#bdbdbd" stroke-width="5.5" stroke-opacity="0.16" stroke-linejoin="round" stroke-linecap="round"/>
<polyline points="1059.5,1003.0 1062.5,1002.5 1065.6,1002.5" fill="none" stroke="#cfcfcf" stroke-width="2.0" stroke-opacity="0.7" stroke-linejoin="round" stroke-linecap="round"/>
<polyline points="1059.5,1004.8 1065.6,1004.3" fill="none" stroke="#e0e0e0" stroke-width="0.8" stroke-opacity="0.45" stroke-linejoin="round" stroke-linecap="round"/>
<polyline points="771.0,994.8 775.2,994.9 779.5,995.3 783.7,996.1 788.0,996.4 792.2,997.3 796.4,997.6 800.7,998.1 804.9,998.2" fill="none" stroke="#cfcfcf" stroke-width="1.08" stroke-opacity="0.48" stroke-linejoin="round" stroke-linecap="round"/>
<polyline points="771.0,1012.7 775.0,1012.1 779.1,1011.5 783.1,1011.0 787.2,1010.8 791.2,1010.5 795.3,1009.8 799.3,1009.2 803.4,1008.9 807.4,1008.5 811.5,1008.1 815.5,1007.7 819.6,1007.3 823.6,1006.7 827.7,1005.8 831.7,1005.9 835.8,1005.0 839.8,1004.7" fill="none" stroke="#cfcfcf" stroke-width="0.9" stroke-opacity="0.4" stroke-linejoin="round" stroke-linecap="round"/>
<polyline points="916.0,994.9 920.0,995.0 924.1,994.9 928.1,995.3 932.2,995.0 936.2,995.1 940.2,995.1 944.3,995.1 948.3,995.7 952.4,995.6 956.4,995.4 960.4,995.6 964.5,996.0 968.5,995.8 972.6,995.6 976.6,995.9" fill="none" stroke="#cfcfcf" stroke-width="0.9" stroke-opacity="0.4" stroke-linejoin="round" stroke-linecap="round"/>
<polyline points="916.0,1006.0 920.1,1006.2 924.2,1006.0 928.3,1006.2 932.4,1005.6 936.5,1005.8 940.6,1006.0 944.7,1006.0 948.9,1006.0 953.0,1005.4 957.1,1005.5 961.2,1005.4 965.3,1005.4 969.4,1005.9 973.5,1005.6 977.6,1005.8 981.7,1005.5" fill="none" stroke="#cfcfcf" stroke-width="0.9" stroke-opacity="0.4" stroke-linejoin="round" stroke-linecap="round"/>
<rect x="771.10" y="1018.60" width="294.60" height="14.90" fill="#000"/>
<text x="773.50" y="1030.20" font-size="9" fill="#d8d8d8" letter-spacing="-0.05">S-4800 5.0kV 10.0mm x500 SE(M) 7/16/2025 09:31</text>
<text x="1059.90" y="1030.20" font-size="9" fill="#d8d8d8" text-anchor="end" letter-spacing="-0.05">100um</text>
<rect x="943.10" y="1018.60" width="1.5" height="3.4" fill="#d8d8d8"/>
<rect x="954.72" y="1018.60" width="1.5" height="2.6" fill="#d8d8d8"/>
<rect x="966.34" y="1018.60" width="1.5" height="2.6" fill="#d8d8d8"/>
<rect x="977.96" y="1018.60" width="1.5" height="2.6" fill="#d8d8d8"/>
<rect x="989.58" y="1018.60" width="1.5" height="2.6" fill="#d8d8d8"/>
<rect x="1001.20" y="1018.60" width="1.5" height="2.6" fill="#d8d8d8"/>
<rect x="1012.82" y="1018.60" width="1.5" height="2.6" fill="#d8d8d8"/>
<rect x="1024.44" y="1018.60" width="1.5" height="2.6" fill="#d8d8d8"/>
<rect x="1036.06" y="1018.60" width="1.5" height="2.6" fill="#d8d8d8"/>
<rect x="1047.68" y="1018.60" width="1.5" height="2.6" fill="#d8d8d8"/>
<rect x="1059.30" y="1018.60" width="1.5" height="2.6" fill="#d8d8d8"/>
<rect x="942.80" y="1007.00" width="117.9" height="2.1" fill="#fff"/>
<rect x="1167.10" y="581.90" width="295.80" height="207.20" fill="rgb(92,92,92)"/>
<rect x="1167.10" y="581.90" width="295.80" height="207.20" fill="url(#gd2)"/>
<rect x="1167.10" y="581.90" width="295.80" height="207.20" filter="url(#grain)" opacity="0.16"/>
<circle cx="1252" cy="637" r="1.0" fill="#8e8e8e"/><circle cx="1277" cy="657" r="1.0" fill="#8e8e8e"/><circle cx="1197" cy="703" r="1.3" fill="#8e8e8e"/><circle cx="1312" cy="712" r="1.3" fill="#8e8e8e"/><circle cx="1376" cy="636" r="0.8" fill="#8e8e8e"/><circle cx="1172" cy="599" r="0.8" fill="#8e8e8e"/>
<rect x="1167.10" y="789.10" width="295.80" height="14.40" fill="#000"/>
<text x="1169.50" y="800.70" font-size="9" fill="#d8d8d8" letter-spacing="-0.05">S-4800 5.0kV 9.9mm x500 SE(M) 7/16/2025 09:29</text>
<text x="1457.10" y="800.70" font-size="9" fill="#d8d8d8" text-anchor="end" letter-spacing="-0.05">100um</text>
<rect x="1340.30" y="789.10" width="1.5" height="3.4" fill="#d8d8d8"/>
<rect x="1351.92" y="789.10" width="1.5" height="2.6" fill="#d8d8d8"/>
<rect x="1363.54" y="789.10" width="1.5" height="2.6" fill="#d8d8d8"/>
<rect x="1375.16" y="789.10" width="1.5" height="2.6" fill="#d8d8d8"/>
<rect x="1386.78" y="789.10" width="1.5" height="2.6" fill="#d8d8d8"/>
<rect x="1398.40" y="789.10" width="1.5" height="2.6" fill="#d8d8d8"/>
<rect x="1410.02" y="789.10" width="1.5" height="2.6" fill="#d8d8d8"/>
<rect x="1421.64" y="789.10" width="1.5" height="2.6" fill="#d8d8d8"/>
<rect x="1433.26" y="789.10" width="1.5" height="2.6" fill="#d8d8d8"/>
<rect x="1444.88" y="789.10" width="1.5" height="2.6" fill="#d8d8d8"/>
<rect x="1456.50" y="789.10" width="1.5" height="2.6" fill="#d8d8d8"/>
<rect x="1340.00" y="779.00" width="117.9" height="2.1" fill="#fff"/>
<rect x="1167.10" y="810.10" width="295.80" height="207.00" fill="rgb(93,93,93)"/>
<rect x="1167.10" y="810.10" width="295.80" height="207.00" fill="url(#gd2)"/>
<rect x="1167.10" y="810.10" width="295.80" height="207.00" filter="url(#grain)" opacity="0.16"/>
<polyline points="1233.3,867.1 1289.6,873.1" fill="none" stroke="#d8d8d8" stroke-width="1.6" stroke-opacity="0.85" stroke-linejoin="round" stroke-linecap="round"/>
<ellipse cx="1264.2" cy="869.6" rx="2.6" ry="2.2" fill="#dcdcdc"/>
<polyline points="1174.5,934.7 1224.8,937.2" fill="none" stroke="#d8d8d8" stroke-width="1.6" stroke-opacity="0.85" stroke-linejoin="round" stroke-linecap="round"/>
<polyline points="1174.5,933.2 1174.5,936.4" fill="none" stroke="#d8d8d8" stroke-width="1.2" stroke-opacity="0.85" stroke-linejoin="round" stroke-linecap="round"/>
<circle cx="1199.9" cy="935.7" r="1.6" fill="#d8d8d8"/>
<polygon points="1219.5,936 1226,936.5 1223,940.8" fill="none" stroke="#e6e6e6" stroke-width="1.2"/>
<polyline points="1284.9,920.4 1317.1,924.1 1341.8,926.6 1378.9,929.7 1385.1,931.5" fill="none" stroke="#d0d0d0" stroke-width="1.5" stroke-opacity="0.85" stroke-linejoin="round" stroke-linecap="round"/>
<polyline points="1385.0,930.5 1398.7,928.4 1403.7,926.6 1422.2,927.8 1433.4,929.1 1444.0,931.0 1463.0,931.5" fill="none" stroke="#d0d0d0" stroke-width="2.0" stroke-opacity="0.85" stroke-linejoin="round" stroke-linecap="round"/>
<polyline points="1385.0,932.0 1403.7,933.4 1434.6,933.4" fill="none" stroke="#c8c8c8" stroke-width="1.0" stroke-opacity="0.6" stroke-linejoin="round" stroke-linecap="round"/>
<circle cx="1391.9" cy="929.7" r="2.2" fill="none" stroke="#e8e8e8" stroke-width="1.1"/>
<polygon points="1437,927 1444.5,931 1440,936.5" fill="#d8d8d8"/>
<circle cx="1187.4" cy="861.5" r="0.9" fill="#a6a6a6"/>
<circle cx="1204.9" cy="920.3" r="0.9" fill="#a6a6a6"/>
<circle cx="1183" cy="907.3" r="0.9" fill="#a6a6a6"/>
<circle cx="1277.2" cy="902.8" r="0.9" fill="#a6a6a6"/>
<circle cx="1420" cy="860" r="0.9" fill="#a6a6a6"/>
<circle cx="1330" cy="960" r="0.9" fill="#a6a6a6"/>
<circle cx="1250" cy="988" r="0.9" fill="#a6a6a6"/>
<rect x="1167.10" y="1017.10" width="295.80" height="14.80" fill="#000"/>
<text x="1169.50" y="1028.70" font-size="9" fill="#d8d8d8" letter-spacing="-0.05">S-4800 5.0kV 9.9mm x500 SE(M) 7/16/2025 09:25</text>
<text x="1457.10" y="1028.70" font-size="9" fill="#d8d8d8" text-anchor="end" letter-spacing="-0.05">100um</text>
<rect x="1340.30" y="1017.10" width="1.5" height="3.4" fill="#d8d8d8"/>
<rect x="1351.92" y="1017.10" width="1.5" height="2.6" fill="#d8d8d8"/>
<rect x="1363.54" y="1017.10" width="1.5" height="2.6" fill="#d8d8d8"/>
<rect x="1375.16" y="1017.10" width="1.5" height="2.6" fill="#d8d8d8"/>
<rect x="1386.78" y="1017.10" width="1.5" height="2.6" fill="#d8d8d8"/>
<rect x="1398.40" y="1017.10" width="1.5" height="2.6" fill="#d8d8d8"/>
<rect x="1410.02" y="1017.10" width="1.5" height="2.6" fill="#d8d8d8"/>
<rect x="1421.64" y="1017.10" width="1.5" height="2.6" fill="#d8d8d8"/>
<rect x="1433.26" y="1017.10" width="1.5" height="2.6" fill="#d8d8d8"/>
<rect x="1444.88" y="1017.10" width="1.5" height="2.6" fill="#d8d8d8"/>
<rect x="1456.50" y="1017.10" width="1.5" height="2.6" fill="#d8d8d8"/>
<rect x="1340.00" y="1007.00" width="117.9" height="2.1" fill="#fff"/>
<!--SEMTEXT-->
<line x1="746.6" y1="816" x2="746.6" y2="1030" stroke="#FF0000" stroke-width="2"/>
<polyline points="738.2,830 746.6,815 755,830" fill="none" stroke="#FF0000" stroke-width="2"/>
<polyline points="738.2,1016 746.6,1031 755,1016" fill="none" stroke="#FF0000" stroke-width="2"/>
<text transform="translate(787.57,616.36) scale(0.9914,0.9789) rotate(0)" font-size="26" font-weight="normal" font-style="normal" fill="#FFC000">PTB7-Th:Y6</text>
<text transform="translate(1183.61,616.40) scale(1.0162,1.0280) rotate(0)" font-size="26" font-weight="normal" font-style="normal" fill="#FFC000">PBFPyT:Y6</text>
<text transform="translate(788.20,844.64) scale(0.9824,0.9833) rotate(0)" font-size="26" font-weight="normal" font-style="normal" fill="#FFC000">After bending</text>
<text transform="translate(1183.50,843.64) scale(0.9869,0.9833) rotate(0)" font-size="26" font-weight="normal" font-style="normal" fill="#FFC000">After bending</text>
<text transform="translate(970.53,937.76) scale(1.0094,1.0532) rotate(4.3)" font-size="23" font-weight="normal" font-style="normal" fill="#FF0000">Crack</text>
<text transform="translate(799.15,980.92) scale(1.0026,1.0633) rotate(4.3)" font-size="23" font-weight="normal" font-style="normal" fill="#FF0000">Crack</text>
<text transform="translate(1290.94,911.92) scale(1.0060,1.0633) rotate(4.3)" font-size="23" font-weight="normal" font-style="normal" fill="#FF0000">Crack</text>
<text transform="translate(970.27,773.03) scale(0.9546,1.0319) rotate(0)" font-size="19.5" font-weight="normal" font-style="normal" fill="#fff">100 μm</text>
<text transform="translate(970.27,1001.03) scale(0.9514,1.0319) rotate(0)" font-size="19.5" font-weight="normal" font-style="normal" fill="#fff">100 μm</text>
<text transform="translate(1365.34,773.03) scale(0.9721,1.0319) rotate(0)" font-size="19.5" font-weight="normal" font-style="normal" fill="#fff">100 μm</text>
<text transform="translate(1365.34,1001.03) scale(0.9721,1.0319) rotate(0)" font-size="19.5" font-weight="normal" font-style="normal" fill="#fff">100 μm</text>
<text transform="translate(725.93,1006.63) scale(0.9733,0.9648) rotate(-90)" font-size="24" font-weight="normal" font-style="normal" fill="#FF0000">Bending direction</text>
</svg>
</body></html>
